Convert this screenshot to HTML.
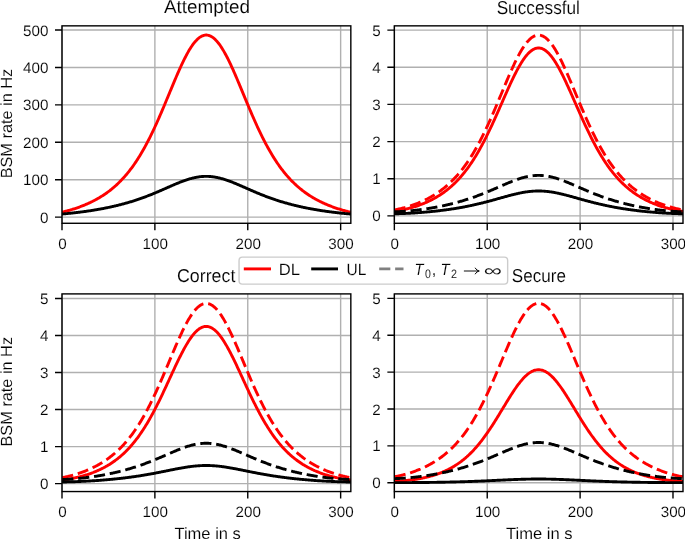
<!DOCTYPE html>
<html><head><meta charset="utf-8"><title>BSM rate</title>
<style>
html,body{margin:0;padding:0;background:#fff;}
body{width:685px;height:539px;overflow:hidden;font-family:"Liberation Sans",sans-serif;}
svg{display:block;will-change:transform;font-family:"Liberation Sans",sans-serif;}
text{stroke:#fff;stroke-width:.12px;}
</style></head><body>
<svg width="685" height="539" viewBox="0 0 685 539" text-rendering="geometricPrecision">
<rect width="685" height="539" fill="#fff"/>
<defs>
<clipPath id="c0"><rect x="62.0" y="25.85" width="288.83" height="197.43"/></clipPath>
<clipPath id="c1"><rect x="394.35" y="25.85" width="288.65" height="197.43"/></clipPath>
<clipPath id="c2"><rect x="62.0" y="293.9" width="288.83" height="197.65"/></clipPath>
<clipPath id="c3"><rect x="394.35" y="293.9" width="288.65" height="197.65"/></clipPath>
</defs>
<path d="M62.00 25.85V223.28M154.88 25.85V223.28M247.76 25.85V223.28M340.64 25.85V223.28M62.0 217.14H350.83M62.0 179.72H350.83M62.0 142.30H350.83M62.0 104.87H350.83M62.0 67.45H350.83M62.0 30.03H350.83" stroke="#b0b0b0" stroke-width="1.4" fill="none"/>
<g clip-path="url(#c0)" fill="none" stroke-width="2.9" stroke-linejoin="round">
<polyline points="62.00,212.14 62.72,211.97 63.45,211.80 64.17,211.62 64.90,211.44 65.62,211.26 66.35,211.07 67.07,210.88 67.80,210.69 68.52,210.49 69.25,210.29 69.97,210.08 70.70,209.87 71.42,209.65 72.15,209.44 72.87,209.21 73.59,208.99 74.32,208.76 75.04,208.52 75.77,208.28 76.49,208.04 77.22,207.79 77.94,207.54 78.67,207.28 79.39,207.02 80.12,206.75 80.84,206.48 81.57,206.21 82.29,205.92 83.01,205.64 83.74,205.35 84.46,205.05 85.19,204.75 85.91,204.44 86.64,204.13 87.36,203.81 88.09,203.49 88.81,203.16 89.54,202.83 90.26,202.49 90.99,202.14 91.71,201.79 92.44,201.43 93.16,201.06 93.88,200.69 94.61,200.31 95.33,199.93 96.06,199.54 96.78,199.14 97.51,198.73 98.23,198.32 98.96,197.89 99.68,197.47 100.41,197.03 101.13,196.58 101.86,196.13 102.58,195.67 103.31,195.20 104.03,194.72 104.75,194.23 105.48,193.74 106.20,193.23 106.93,192.72 107.65,192.19 108.38,191.66 109.10,191.11 109.83,190.56 110.55,189.99 111.28,189.42 112.00,188.83 112.73,188.23 113.45,187.62 114.17,187.00 114.90,186.37 115.62,185.73 116.35,185.07 117.07,184.40 117.80,183.72 118.52,183.02 119.25,182.32 119.97,181.59 120.70,180.86 121.42,180.11 122.15,179.35 122.87,178.57 123.60,177.78 124.32,176.97 125.04,176.15 125.77,175.31 126.49,174.45 127.22,173.58 127.94,172.70 128.67,171.80 129.39,170.88 130.12,169.94 130.84,168.99 131.57,168.02 132.29,167.04 133.02,166.03 133.74,165.01 134.47,163.97 135.19,162.91 135.91,161.84 136.64,160.74 137.36,159.63 138.09,158.50 138.81,157.35 139.54,156.18 140.26,154.99 140.99,153.78 141.71,152.56 142.44,151.31 143.16,150.05 143.89,148.76 144.61,147.46 145.33,146.14 146.06,144.79 146.78,143.43 147.51,142.05 148.23,140.66 148.96,139.24 149.68,137.80 150.41,136.35 151.13,134.88 151.86,133.39 152.58,131.88 153.31,130.36 154.03,128.82 154.76,127.26 155.48,125.69 156.20,124.10 156.93,122.49 157.65,120.87 158.38,119.24 159.10,117.60 159.83,115.94 160.55,114.27 161.28,112.58 162.00,110.89 162.73,109.19 163.45,107.48 164.18,105.76 164.90,104.03 165.62,102.30 166.35,100.56 167.07,98.82 167.80,97.07 168.52,95.32 169.25,93.57 169.97,91.82 170.70,90.08 171.42,88.33 172.15,86.59 172.87,84.85 173.60,83.12 174.32,81.40 175.05,79.69 175.77,77.98 176.49,76.29 177.22,74.61 177.94,72.95 178.67,71.31 179.39,69.68 180.12,68.07 180.84,66.48 181.57,64.92 182.29,63.37 183.02,61.86 183.74,60.37 184.47,58.91 185.19,57.48 185.92,56.08 186.64,54.72 187.36,53.39 188.09,52.09 188.81,50.83 189.54,49.62 190.26,48.44 190.99,47.30 191.71,46.21 192.44,45.16 193.16,44.16 193.89,43.21 194.61,42.30 195.34,41.44 196.06,40.63 196.78,39.88 197.51,39.17 198.23,38.52 198.96,37.92 199.68,37.38 200.41,36.89 201.13,36.46 201.86,36.09 202.58,35.77 203.31,35.51 204.03,35.30 204.76,35.16 205.48,35.07 206.21,35.04 206.93,35.07 207.65,35.16 208.38,35.31 209.10,35.51 209.83,35.78 210.55,36.10 211.28,36.47 212.00,36.90 212.73,37.39 213.45,37.94 214.18,38.54 214.90,39.19 215.63,39.90 216.35,40.65 217.08,41.46 217.80,42.32 218.52,43.23 219.25,44.19 219.97,45.19 220.70,46.24 221.42,47.33 222.15,48.47 222.87,49.65 223.60,50.87 224.32,52.12 225.05,53.42 225.77,54.75 226.50,56.12 227.22,57.52 227.94,58.95 228.67,60.41 229.39,61.90 230.12,63.41 230.84,64.95 231.57,66.52 232.29,68.11 233.02,69.72 233.74,71.35 234.47,72.99 235.19,74.66 235.92,76.33 236.64,78.03 237.37,79.73 238.09,81.44 238.81,83.17 239.54,84.90 240.26,86.63 240.99,88.37 241.71,90.12 242.44,91.87 243.16,93.62 243.89,95.37 244.61,97.12 245.34,98.86 246.06,100.60 246.79,102.34 247.51,104.08 248.24,105.80 248.96,107.52 249.68,109.23 250.41,110.94 251.13,112.63 251.86,114.31 252.58,115.98 253.31,117.64 254.03,119.28 254.76,120.92 255.48,122.53 256.21,124.14 256.93,125.73 257.66,127.30 258.38,128.86 259.10,130.40 259.83,131.92 260.55,133.43 261.28,134.91 262.00,136.39 262.73,137.84 263.45,139.27 264.18,140.69 264.90,142.09 265.63,143.47 266.35,144.83 267.08,146.17 267.80,147.49 268.53,148.79 269.25,150.08 269.97,151.34 270.70,152.59 271.42,153.81 272.15,155.02 272.87,156.21 273.60,157.38 274.32,158.53 275.05,159.66 275.77,160.77 276.50,161.86 277.22,162.94 277.95,164.00 278.67,165.04 279.40,166.06 280.12,167.06 280.84,168.05 281.57,169.02 282.29,169.97 283.02,170.90 283.74,171.82 284.47,172.72 285.19,173.61 285.92,174.48 286.64,175.33 287.37,176.17 288.09,176.99 288.82,177.80 289.54,178.59 290.26,179.37 290.99,180.13 291.71,180.88 292.44,181.61 293.16,182.33 293.89,183.04 294.61,183.74 295.34,184.42 296.06,185.09 296.79,185.74 297.51,186.39 298.24,187.02 298.96,187.64 299.69,188.25 300.41,188.85 301.13,189.43 301.86,190.01 302.58,190.57 303.31,191.13 304.03,191.67 304.76,192.21 305.48,192.73 306.21,193.25 306.93,193.75 307.66,194.25 308.38,194.73 309.11,195.21 309.83,195.68 310.56,196.14 311.28,196.60 312.00,197.04 312.73,197.48 313.45,197.91 314.18,198.33 314.90,198.74 315.63,199.15 316.35,199.55 317.08,199.94 317.80,200.32 318.53,200.70 319.25,201.07 319.98,201.44 320.70,201.80 321.42,202.15 322.15,202.50 322.87,202.84 323.60,203.17 324.32,203.50 325.05,203.82 325.77,204.14 326.50,204.45 327.22,204.76 327.95,205.06 328.67,205.35 329.40,205.65 330.12,205.93 330.85,206.21 331.57,206.49 332.29,206.76 333.02,207.03 333.74,207.29 334.47,207.54 335.19,207.80 335.92,208.05 336.64,208.29 337.37,208.53 338.09,208.76 338.82,208.99 339.54,209.22 340.27,209.44 340.99,209.66 341.71,209.87 342.44,210.08 343.16,210.29 343.89,210.49 344.61,210.69 345.34,210.89 346.06,211.08 346.79,211.26 347.51,211.45 348.24,211.62 348.96,211.80 349.69,211.97 350.41,212.14 351.14,212.31" stroke="#ff0000" stroke-linecap="square"/>
<polyline points="62.00,214.05 62.72,213.98 63.45,213.92 64.17,213.85 64.90,213.78 65.62,213.72 66.35,213.65 67.07,213.58 67.80,213.50 68.52,213.43 69.25,213.36 69.97,213.28 70.70,213.21 71.42,213.13 72.15,213.05 72.87,212.97 73.59,212.89 74.32,212.81 75.04,212.73 75.77,212.64 76.49,212.56 77.22,212.47 77.94,212.38 78.67,212.29 79.39,212.20 80.12,212.11 80.84,212.02 81.57,211.93 82.29,211.83 83.01,211.74 83.74,211.64 84.46,211.54 85.19,211.44 85.91,211.34 86.64,211.24 87.36,211.13 88.09,211.03 88.81,210.92 89.54,210.81 90.26,210.70 90.99,210.59 91.71,210.48 92.44,210.36 93.16,210.25 93.88,210.13 94.61,210.01 95.33,209.89 96.06,209.77 96.78,209.65 97.51,209.52 98.23,209.40 98.96,209.27 99.68,209.14 100.41,209.01 101.13,208.88 101.86,208.74 102.58,208.61 103.31,208.47 104.03,208.33 104.75,208.19 105.48,208.04 106.20,207.90 106.93,207.75 107.65,207.60 108.38,207.45 109.10,207.30 109.83,207.15 110.55,206.99 111.28,206.83 112.00,206.67 112.73,206.51 113.45,206.34 114.17,206.18 114.90,206.01 115.62,205.84 116.35,205.67 117.07,205.49 117.80,205.32 118.52,205.14 119.25,204.96 119.97,204.77 120.70,204.59 121.42,204.40 122.15,204.21 122.87,204.02 123.60,203.82 124.32,203.62 125.04,203.43 125.77,203.22 126.49,203.02 127.22,202.81 127.94,202.60 128.67,202.39 129.39,202.18 130.12,201.96 130.84,201.74 131.57,201.52 132.29,201.30 133.02,201.07 133.74,200.84 134.47,200.61 135.19,200.38 135.91,200.14 136.64,199.90 137.36,199.66 138.09,199.41 138.81,199.16 139.54,198.91 140.26,198.66 140.99,198.41 141.71,198.15 142.44,197.89 143.16,197.63 143.89,197.36 144.61,197.09 145.33,196.82 146.06,196.55 146.78,196.27 147.51,195.99 148.23,195.71 148.96,195.43 149.68,195.15 150.41,194.86 151.13,194.57 151.86,194.28 152.58,193.98 153.31,193.69 154.03,193.39 154.76,193.09 155.48,192.78 156.20,192.48 156.93,192.17 157.65,191.87 158.38,191.56 159.10,191.25 159.83,190.93 160.55,190.62 161.28,190.31 162.00,189.99 162.73,189.67 163.45,189.36 164.18,189.04 164.90,188.72 165.62,188.40 166.35,188.08 167.07,187.76 167.80,187.44 168.52,187.12 169.25,186.80 169.97,186.49 170.70,186.17 171.42,185.85 172.15,185.54 172.87,185.22 173.60,184.91 174.32,184.60 175.05,184.29 175.77,183.99 176.49,183.68 177.22,183.38 177.94,183.09 178.67,182.79 179.39,182.50 180.12,182.21 180.84,181.93 181.57,181.65 182.29,181.38 183.02,181.11 183.74,180.84 184.47,180.58 185.19,180.33 185.92,180.08 186.64,179.84 187.36,179.60 188.09,179.37 188.81,179.15 189.54,178.94 190.26,178.73 190.99,178.53 191.71,178.33 192.44,178.15 193.16,177.97 193.89,177.80 194.61,177.64 195.34,177.49 196.06,177.34 196.78,177.21 197.51,177.09 198.23,176.97 198.96,176.87 199.68,176.77 200.41,176.68 201.13,176.61 201.86,176.54 202.58,176.48 203.31,176.44 204.03,176.40 204.76,176.38 205.48,176.36 206.21,176.36 206.93,176.36 207.65,176.38 208.38,176.40 209.10,176.44 209.83,176.49 210.55,176.54 211.28,176.61 212.00,176.69 212.73,176.77 213.45,176.87 214.18,176.97 214.90,177.09 215.63,177.21 216.35,177.35 217.08,177.49 217.80,177.64 218.52,177.80 219.25,177.97 219.97,178.15 220.70,178.34 221.42,178.53 222.15,178.73 222.87,178.94 223.60,179.16 224.32,179.38 225.05,179.61 225.77,179.85 226.50,180.09 227.22,180.34 227.94,180.59 228.67,180.85 229.39,181.12 230.12,181.38 230.84,181.66 231.57,181.94 232.29,182.22 233.02,182.51 233.74,182.80 234.47,183.09 235.19,183.39 235.92,183.69 236.64,184.00 237.37,184.30 238.09,184.61 238.81,184.92 239.54,185.23 240.26,185.55 240.99,185.86 241.71,186.18 242.44,186.49 243.16,186.81 243.89,187.13 244.61,187.45 245.34,187.77 246.06,188.09 246.79,188.41 247.51,188.73 248.24,189.04 248.96,189.36 249.68,189.68 250.41,190.00 251.13,190.31 251.86,190.63 252.58,190.94 253.31,191.25 254.03,191.56 254.76,191.87 255.48,192.18 256.21,192.49 256.93,192.79 257.66,193.09 258.38,193.39 259.10,193.69 259.83,193.99 260.55,194.28 261.28,194.58 262.00,194.87 262.73,195.15 263.45,195.44 264.18,195.72 264.90,196.00 265.63,196.28 266.35,196.56 267.08,196.83 267.80,197.10 268.53,197.37 269.25,197.63 269.97,197.90 270.70,198.16 271.42,198.41 272.15,198.67 272.87,198.92 273.60,199.17 274.32,199.42 275.05,199.66 275.77,199.91 276.50,200.14 277.22,200.38 277.95,200.62 278.67,200.85 279.40,201.08 280.12,201.30 280.84,201.53 281.57,201.75 282.29,201.97 283.02,202.18 283.74,202.40 284.47,202.61 285.19,202.82 285.92,203.02 286.64,203.23 287.37,203.43 288.09,203.63 288.82,203.83 289.54,204.02 290.26,204.21 290.99,204.40 291.71,204.59 292.44,204.78 293.16,204.96 293.89,205.14 294.61,205.32 295.34,205.50 296.06,205.67 296.79,205.84 297.51,206.01 298.24,206.18 298.96,206.35 299.69,206.51 300.41,206.67 301.13,206.83 301.86,206.99 302.58,207.15 303.31,207.30 304.03,207.46 304.76,207.61 305.48,207.76 306.21,207.90 306.93,208.05 307.66,208.19 308.38,208.33 309.11,208.47 309.83,208.61 310.56,208.75 311.28,208.88 312.00,209.01 312.73,209.14 313.45,209.27 314.18,209.40 314.90,209.53 315.63,209.65 316.35,209.77 317.08,209.90 317.80,210.02 318.53,210.13 319.25,210.25 319.98,210.37 320.70,210.48 321.42,210.59 322.15,210.70 322.87,210.81 323.60,210.92 324.32,211.03 325.05,211.13 325.77,211.24 326.50,211.34 327.22,211.44 327.95,211.54 328.67,211.64 329.40,211.74 330.12,211.84 330.85,211.93 331.57,212.02 332.29,212.12 333.02,212.21 333.74,212.30 334.47,212.39 335.19,212.47 335.92,212.56 336.64,212.64 337.37,212.73 338.09,212.81 338.82,212.89 339.54,212.97 340.27,213.05 340.99,213.13 341.71,213.21 342.44,213.28 343.16,213.36 343.89,213.43 344.61,213.51 345.34,213.58 346.06,213.65 346.79,213.72 347.51,213.79 348.24,213.85 348.96,213.92 349.69,213.99 350.41,214.05 351.14,214.11" stroke="#000" stroke-linecap="square"/>
</g>
<path d="M62.00 223.28v7.0M154.88 223.28v7.0M247.76 223.28v7.0M340.64 223.28v7.0M62.0 217.14h-7.0M62.0 179.72h-7.0M62.0 142.30h-7.0M62.0 104.87h-7.0M62.0 67.45h-7.0M62.0 30.03h-7.0" stroke="#000" stroke-width="1.4" fill="none"/>
<rect x="62.0" y="25.85" width="288.83" height="197.43" fill="none" stroke="#000" stroke-width="1.4"/>
<g font-size="15.2" fill="#000">
<text x="62.40" y="248.88" text-anchor="middle">0</text>
<text x="155.28" y="248.88" text-anchor="middle">100</text>
<text x="248.16" y="248.88" text-anchor="middle">200</text>
<text x="341.04" y="248.88" text-anchor="middle">300</text>
<text x="48.40" y="222.69" text-anchor="end">0</text>
<text x="48.40" y="185.27" text-anchor="end">100</text>
<text x="48.40" y="147.85" text-anchor="end">200</text>
<text x="48.40" y="110.42" text-anchor="end">300</text>
<text x="48.40" y="73.00" text-anchor="end">400</text>
<text x="48.40" y="35.58" text-anchor="end">500</text>
</g>
<text x="163.93" y="13.4" font-size="18.6" textLength="86.05" lengthAdjust="spacingAndGlyphs">Attempted</text>
<g transform="translate(12.1 178.56) rotate(-90)"><text x="0.20" y="0" font-size="16.2" textLength="109.58" lengthAdjust="spacingAndGlyphs">BSM rate in Hz</text></g>
<path d="M394.35 25.85V223.28M487.23 25.85V223.28M580.11 25.85V223.28M672.99 25.85V223.28M394.35 215.90H683.00M394.35 178.74H683.00M394.35 141.58H683.00M394.35 104.42H683.00M394.35 67.26H683.00M394.35 30.10H683.00" stroke="#b0b0b0" stroke-width="1.4" fill="none"/>
<g clip-path="url(#c1)" fill="none" stroke-width="2.9" stroke-linejoin="round">
<polyline points="394.35,211.40 395.07,211.28 395.80,211.17 396.52,211.04 397.25,210.92 397.97,210.79 398.70,210.66 399.42,210.52 400.15,210.38 400.87,210.24 401.60,210.09 402.32,209.94 403.05,209.79 403.77,209.63 404.50,209.47 405.22,209.30 405.94,209.13 406.67,208.95 407.39,208.77 408.12,208.59 408.84,208.40 409.57,208.21 410.29,208.01 411.02,207.81 411.74,207.61 412.47,207.40 413.19,207.18 413.92,206.96 414.64,206.73 415.36,206.50 416.09,206.27 416.81,206.03 417.54,205.78 418.26,205.53 418.99,205.27 419.71,205.01 420.44,204.74 421.16,204.47 421.89,204.19 422.61,203.90 423.34,203.61 424.06,203.31 424.79,203.01 425.51,202.70 426.23,202.38 426.96,202.06 427.68,201.73 428.41,201.39 429.13,201.05 429.86,200.70 430.58,200.34 431.31,199.97 432.03,199.60 432.76,199.22 433.48,198.83 434.21,198.43 434.93,198.03 435.66,197.62 436.38,197.20 437.10,196.77 437.83,196.33 438.55,195.88 439.28,195.42 440.00,194.96 440.73,194.48 441.45,194.00 442.18,193.50 442.90,193.00 443.63,192.48 444.35,191.96 445.08,191.42 445.80,190.87 446.52,190.32 447.25,189.75 447.97,189.17 448.70,188.57 449.42,187.97 450.15,187.35 450.87,186.72 451.60,186.08 452.32,185.43 453.05,184.76 453.77,184.08 454.50,183.38 455.22,182.67 455.95,181.95 456.67,181.21 457.39,180.46 458.12,179.70 458.84,178.92 459.57,178.12 460.29,177.31 461.02,176.48 461.74,175.64 462.47,174.78 463.19,173.91 463.92,173.02 464.64,172.11 465.37,171.19 466.09,170.24 466.82,169.29 467.54,168.31 468.26,167.32 468.99,166.31 469.71,165.28 470.44,164.23 471.16,163.17 471.89,162.08 472.61,160.98 473.34,159.86 474.06,158.72 474.79,157.57 475.51,156.39 476.24,155.20 476.96,153.99 477.68,152.76 478.41,151.51 479.13,150.24 479.86,148.96 480.58,147.65 481.31,146.33 482.03,144.99 482.76,143.64 483.48,142.26 484.21,140.87 484.93,139.46 485.66,138.04 486.38,136.59 487.11,135.14 487.83,133.66 488.55,132.17 489.28,130.67 490.00,129.15 490.73,127.62 491.45,126.08 492.18,124.52 492.90,122.95 493.63,121.37 494.35,119.78 495.08,118.18 495.80,116.57 496.53,114.95 497.25,113.33 497.97,111.69 498.70,110.06 499.42,108.41 500.15,106.77 500.87,105.12 501.60,103.47 502.32,101.82 503.05,100.17 503.77,98.52 504.50,96.87 505.22,95.23 505.95,93.60 506.67,91.97 507.40,90.35 508.12,88.74 508.84,87.14 509.57,85.55 510.29,83.98 511.02,82.42 511.74,80.88 512.47,79.36 513.19,77.85 513.92,76.37 514.64,74.91 515.37,73.47 516.09,72.06 516.82,70.67 517.54,69.32 518.27,67.99 518.99,66.70 519.71,65.43 520.44,64.21 521.16,63.01 521.89,61.86 522.61,60.74 523.34,59.66 524.06,58.62 524.79,57.63 525.51,56.68 526.24,55.77 526.96,54.91 527.69,54.09 528.41,53.32 529.13,52.60 529.86,51.93 530.58,51.31 531.31,50.75 532.03,50.23 532.76,49.77 533.48,49.36 534.21,49.00 534.93,48.70 535.66,48.45 536.38,48.26 537.11,48.12 537.83,48.04 538.56,48.01 539.28,48.04 540.00,48.12 540.73,48.26 541.45,48.45 542.18,48.70 542.90,49.01 543.63,49.37 544.35,49.78 545.08,50.24 545.80,50.76 546.53,51.33 547.25,51.95 547.98,52.62 548.70,53.34 549.43,54.11 550.15,54.93 550.87,55.79 551.60,56.70 552.32,57.65 553.05,58.65 553.77,59.69 554.50,60.77 555.22,61.89 555.95,63.04 556.67,64.24 557.40,65.47 558.12,66.73 558.85,68.03 559.57,69.35 560.29,70.71 561.02,72.09 561.74,73.51 562.47,74.94 563.19,76.41 563.92,77.89 564.64,79.39 565.37,80.92 566.09,82.46 566.82,84.02 567.54,85.59 568.27,87.18 568.99,88.78 569.72,90.39 570.44,92.01 571.16,93.64 571.89,95.28 572.61,96.92 573.34,98.56 574.06,100.21 574.79,101.86 575.51,103.51 576.24,105.16 576.96,106.81 577.69,108.46 578.41,110.10 579.14,111.73 579.86,113.37 580.59,114.99 581.31,116.61 582.03,118.22 582.76,119.82 583.48,121.41 584.21,122.99 584.93,124.56 585.66,126.12 586.38,127.66 587.11,129.19 587.83,130.71 588.56,132.21 589.28,133.70 590.01,135.17 590.73,136.63 591.45,138.07 592.18,139.50 592.90,140.91 593.63,142.30 594.35,143.67 595.08,145.03 595.80,146.37 596.53,147.69 597.25,148.99 597.98,150.28 598.70,151.54 599.43,152.79 600.15,154.02 600.88,155.23 601.60,156.42 602.32,157.60 603.05,158.75 603.77,159.89 604.50,161.01 605.22,162.11 605.95,163.19 606.67,164.26 607.40,165.30 608.12,166.33 608.85,167.34 609.57,168.34 610.30,169.31 611.02,170.27 611.75,171.21 612.47,172.13 613.19,173.04 613.92,173.93 614.64,174.81 615.37,175.66 616.09,176.51 616.82,177.33 617.54,178.14 618.27,178.94 618.99,179.72 619.72,180.48 620.44,181.23 621.17,181.97 621.89,182.69 622.61,183.40 623.34,184.09 624.06,184.77 624.79,185.44 625.51,186.10 626.24,186.74 626.96,187.37 627.69,187.98 628.41,188.59 629.14,189.18 629.86,189.76 630.59,190.33 631.31,190.89 632.04,191.43 632.76,191.97 633.48,192.50 634.21,193.01 634.93,193.52 635.66,194.01 636.38,194.50 637.11,194.97 637.83,195.44 638.56,195.89 639.28,196.34 640.01,196.78 640.73,197.21 641.46,197.63 642.18,198.04 642.91,198.45 643.63,198.84 644.35,199.23 645.08,199.61 645.80,199.98 646.53,200.35 647.25,200.71 647.98,201.06 648.70,201.40 649.43,201.74 650.15,202.07 650.88,202.39 651.60,202.71 652.33,203.02 653.05,203.32 653.77,203.62 654.50,203.91 655.22,204.20 655.95,204.48 656.67,204.75 657.40,205.02 658.12,205.28 658.85,205.54 659.57,205.79 660.30,206.03 661.02,206.27 661.75,206.51 662.47,206.74 663.20,206.97 663.92,207.19 664.64,207.40 665.37,207.61 666.09,207.82 666.82,208.02 667.54,208.22 668.27,208.41 668.99,208.60 669.72,208.78 670.44,208.96 671.17,209.13 671.89,209.30 672.62,209.47 673.34,209.63 674.06,209.79 674.79,209.95 675.51,210.10 676.24,210.24 676.96,210.39 677.69,210.53 678.41,210.66 679.14,210.79 679.86,210.92 680.59,211.05 681.31,211.17 682.04,211.29 682.76,211.40 683.49,211.52" stroke="#ff0000" stroke-linecap="square"/>
<polyline points="394.35,209.94 395.07,209.80 395.80,209.65 396.52,209.51 397.25,209.35 397.97,209.20 398.70,209.04 399.42,208.88 400.15,208.71 400.87,208.54 401.60,208.36 402.32,208.18 403.05,208.00 403.77,207.81 404.50,207.61 405.22,207.42 405.94,207.21 406.67,207.01 407.39,206.79 408.12,206.58 408.84,206.36 409.57,206.13 410.29,205.90 411.02,205.66 411.74,205.42 412.47,205.17 413.19,204.92 413.92,204.66 414.64,204.40 415.36,204.13 416.09,203.86 416.81,203.58 417.54,203.30 418.26,203.01 418.99,202.71 419.71,202.41 420.44,202.10 421.16,201.78 421.89,201.46 422.61,201.14 423.34,200.80 424.06,200.46 424.79,200.12 425.51,199.76 426.23,199.40 426.96,199.04 427.68,198.66 428.41,198.28 429.13,197.89 429.86,197.50 430.58,197.09 431.31,196.68 432.03,196.26 432.76,195.83 433.48,195.40 434.21,194.95 434.93,194.50 435.66,194.04 436.38,193.57 437.10,193.09 437.83,192.60 438.55,192.10 439.28,191.59 440.00,191.08 440.73,190.55 441.45,190.01 442.18,189.46 442.90,188.91 443.63,188.34 444.35,187.76 445.08,187.16 445.80,186.56 446.52,185.95 447.25,185.32 447.97,184.68 448.70,184.03 449.42,183.37 450.15,182.69 450.87,182.00 451.60,181.30 452.32,180.59 453.05,179.86 453.77,179.12 454.50,178.36 455.22,177.59 455.95,176.80 456.67,176.00 457.39,175.18 458.12,174.35 458.84,173.51 459.57,172.64 460.29,171.76 461.02,170.87 461.74,169.96 462.47,169.03 463.19,168.09 463.92,167.12 464.64,166.14 465.37,165.15 466.09,164.13 466.82,163.10 467.54,162.05 468.26,160.98 468.99,159.90 469.71,158.79 470.44,157.67 471.16,156.52 471.89,155.36 472.61,154.18 473.34,152.99 474.06,151.77 474.79,150.53 475.51,149.27 476.24,148.00 476.96,146.70 477.68,145.39 478.41,144.06 479.13,142.71 479.86,141.34 480.58,139.95 481.31,138.54 482.03,137.12 482.76,135.67 483.48,134.21 484.21,132.73 484.93,131.24 485.66,129.72 486.38,128.19 487.11,126.65 487.83,125.09 488.55,123.51 489.28,121.92 490.00,120.31 490.73,118.69 491.45,117.05 492.18,115.41 492.90,113.75 493.63,112.08 494.35,110.40 495.08,108.71 495.80,107.01 496.53,105.30 497.25,103.58 497.97,101.86 498.70,100.14 499.42,98.41 500.15,96.67 500.87,94.94 501.60,93.20 502.32,91.46 503.05,89.73 503.77,87.99 504.50,86.26 505.22,84.54 505.95,82.82 506.67,81.11 507.40,79.41 508.12,77.72 508.84,76.04 509.57,74.37 510.29,72.72 511.02,71.09 511.74,69.47 512.47,67.87 513.19,66.30 513.92,64.74 514.64,63.21 515.37,61.71 516.09,60.23 516.82,58.78 517.54,57.36 518.27,55.97 518.99,54.61 519.71,53.29 520.44,52.01 521.16,50.76 521.89,49.55 522.61,48.38 523.34,47.25 524.06,46.17 524.79,45.13 525.51,44.13 526.24,43.18 526.96,42.28 527.69,41.43 528.41,40.63 529.13,39.88 529.86,39.18 530.58,38.53 531.31,37.94 532.03,37.40 532.76,36.92 533.48,36.49 534.21,36.11 534.93,35.80 535.66,35.54 536.38,35.34 537.11,35.19 537.83,35.11 538.56,35.08 539.28,35.11 540.00,35.20 540.73,35.34 541.45,35.55 542.18,35.81 542.90,36.12 543.63,36.50 544.35,36.93 545.08,37.41 545.80,37.95 546.53,38.55 547.25,39.20 547.98,39.90 548.70,40.65 549.43,41.45 550.15,42.31 550.87,43.21 551.60,44.16 552.32,45.15 553.05,46.20 553.77,47.28 554.50,48.41 555.22,49.58 555.95,50.79 556.67,52.04 557.40,53.32 558.12,54.65 558.85,56.00 559.57,57.39 560.29,58.81 561.02,60.26 561.74,61.74 562.47,63.25 563.19,64.78 563.92,66.34 564.64,67.91 565.37,69.51 566.09,71.13 566.82,72.76 567.54,74.41 568.27,76.08 568.99,77.76 569.72,79.45 570.44,81.15 571.16,82.86 571.89,84.58 572.61,86.31 573.34,88.04 574.06,89.77 574.79,91.50 575.51,93.24 576.24,94.98 576.96,96.72 577.69,98.45 578.41,100.18 579.14,101.91 579.86,103.63 580.59,105.34 581.31,107.05 582.03,108.75 582.76,110.44 583.48,112.12 584.21,113.79 584.93,115.45 585.66,117.09 586.38,118.73 587.11,120.35 587.83,121.96 588.56,123.55 589.28,125.13 590.01,126.69 590.73,128.23 591.45,129.76 592.18,131.28 592.90,132.77 593.63,134.25 594.35,135.71 595.08,137.15 595.80,138.58 596.53,139.99 597.25,141.37 597.98,142.74 598.70,144.09 599.43,145.43 600.15,146.74 600.88,148.03 601.60,149.31 602.32,150.56 603.05,151.80 603.77,153.02 604.50,154.21 605.22,155.39 605.95,156.55 606.67,157.70 607.40,158.82 608.12,159.92 608.85,161.01 609.57,162.08 610.30,163.13 611.02,164.16 611.75,165.17 612.47,166.17 613.19,167.15 613.92,168.11 614.64,169.05 615.37,169.98 616.09,170.89 616.82,171.79 617.54,172.67 618.27,173.53 618.99,174.37 619.72,175.20 620.44,176.02 621.17,176.82 621.89,177.61 622.61,178.38 623.34,179.13 624.06,179.88 624.79,180.61 625.51,181.32 626.24,182.02 626.96,182.71 627.69,183.39 628.41,184.05 629.14,184.70 629.86,185.34 630.59,185.96 631.31,186.58 632.04,187.18 632.76,187.77 633.48,188.35 634.21,188.92 634.93,189.48 635.66,190.03 636.38,190.56 637.11,191.09 637.83,191.61 638.56,192.11 639.28,192.61 640.01,193.10 640.73,193.58 641.46,194.05 642.18,194.51 642.91,194.96 643.63,195.41 644.35,195.84 645.08,196.27 645.80,196.69 646.53,197.10 647.25,197.51 647.98,197.90 648.70,198.29 649.43,198.67 650.15,199.05 650.88,199.41 651.60,199.77 652.33,200.13 653.05,200.47 653.77,200.81 654.50,201.15 655.22,201.47 655.95,201.79 656.67,202.11 657.40,202.42 658.12,202.72 658.85,203.01 659.57,203.30 660.30,203.59 661.02,203.87 661.75,204.14 662.47,204.41 663.20,204.67 663.92,204.93 664.64,205.18 665.37,205.43 666.09,205.67 666.82,205.90 667.54,206.14 668.27,206.36 668.99,206.58 669.72,206.80 670.44,207.01 671.17,207.22 671.89,207.42 672.62,207.62 673.34,207.81 674.06,208.00 674.79,208.18 675.51,208.36 676.24,208.54 676.96,208.71 677.69,208.88 678.41,209.04 679.14,209.20 679.86,209.36 680.59,209.51 681.31,209.66 682.04,209.80 682.76,209.94 683.49,210.08" stroke="#ff0000" stroke-dasharray="11.13 4.82" stroke-dashoffset="-0.3"/>
<polyline points="394.35,213.79 395.07,213.77 395.80,213.76 396.52,213.74 397.25,213.72 397.97,213.70 398.70,213.68 399.42,213.66 400.15,213.63 400.87,213.61 401.60,213.58 402.32,213.56 403.05,213.53 403.77,213.50 404.50,213.47 405.22,213.44 405.94,213.41 406.67,213.37 407.39,213.34 408.12,213.30 408.84,213.27 409.57,213.23 410.29,213.19 411.02,213.15 411.74,213.11 412.47,213.06 413.19,213.02 413.92,212.98 414.64,212.93 415.36,212.88 416.09,212.84 416.81,212.79 417.54,212.74 418.26,212.68 418.99,212.63 419.71,212.58 420.44,212.52 421.16,212.47 421.89,212.41 422.61,212.35 423.34,212.29 424.06,212.23 424.79,212.17 425.51,212.11 426.23,212.04 426.96,211.98 427.68,211.91 428.41,211.85 429.13,211.78 429.86,211.71 430.58,211.64 431.31,211.56 432.03,211.49 432.76,211.42 433.48,211.34 434.21,211.26 434.93,211.19 435.66,211.11 436.38,211.03 437.10,210.95 437.83,210.86 438.55,210.78 439.28,210.69 440.00,210.61 440.73,210.52 441.45,210.43 442.18,210.34 442.90,210.25 443.63,210.15 444.35,210.06 445.08,209.96 445.80,209.86 446.52,209.77 447.25,209.67 447.97,209.56 448.70,209.46 449.42,209.36 450.15,209.25 450.87,209.14 451.60,209.03 452.32,208.92 453.05,208.81 453.77,208.70 454.50,208.58 455.22,208.47 455.95,208.35 456.67,208.23 457.39,208.11 458.12,207.99 458.84,207.86 459.57,207.74 460.29,207.61 461.02,207.48 461.74,207.35 462.47,207.22 463.19,207.08 463.92,206.95 464.64,206.81 465.37,206.67 466.09,206.53 466.82,206.39 467.54,206.24 468.26,206.09 468.99,205.95 469.71,205.80 470.44,205.65 471.16,205.49 471.89,205.34 472.61,205.18 473.34,205.02 474.06,204.86 474.79,204.70 475.51,204.54 476.24,204.37 476.96,204.20 477.68,204.04 478.41,203.87 479.13,203.69 479.86,203.52 480.58,203.34 481.31,203.17 482.03,202.99 482.76,202.81 483.48,202.62 484.21,202.44 484.93,202.26 485.66,202.07 486.38,201.88 487.11,201.69 487.83,201.50 488.55,201.31 489.28,201.12 490.00,200.92 490.73,200.73 491.45,200.53 492.18,200.33 492.90,200.13 493.63,199.93 494.35,199.73 495.08,199.53 495.80,199.33 496.53,199.13 497.25,198.93 497.97,198.72 498.70,198.52 499.42,198.32 500.15,198.11 500.87,197.91 501.60,197.71 502.32,197.51 503.05,197.30 503.77,197.10 504.50,196.90 505.22,196.70 505.95,196.50 506.67,196.30 507.40,196.10 508.12,195.91 508.84,195.71 509.57,195.52 510.29,195.33 511.02,195.14 511.74,194.95 512.47,194.77 513.19,194.59 513.92,194.41 514.64,194.23 515.37,194.06 516.09,193.89 516.82,193.72 517.54,193.56 518.27,193.40 518.99,193.24 519.71,193.09 520.44,192.94 521.16,192.80 521.89,192.66 522.61,192.53 523.34,192.40 524.06,192.27 524.79,192.15 525.51,192.04 526.24,191.93 526.96,191.82 527.69,191.73 528.41,191.63 529.13,191.55 529.86,191.47 530.58,191.39 531.31,191.32 532.03,191.26 532.76,191.20 533.48,191.16 534.21,191.11 534.93,191.08 535.66,191.05 536.38,191.02 537.11,191.01 537.83,191.00 538.56,190.99 539.28,191.00 540.00,191.01 540.73,191.02 541.45,191.05 542.18,191.08 542.90,191.11 543.63,191.16 544.35,191.21 545.08,191.26 545.80,191.32 546.53,191.39 547.25,191.47 547.98,191.55 548.70,191.64 549.43,191.73 550.15,191.83 550.87,191.93 551.60,192.04 552.32,192.15 553.05,192.27 553.77,192.40 554.50,192.53 555.22,192.66 555.95,192.80 556.67,192.95 557.40,193.09 558.12,193.25 558.85,193.40 559.57,193.56 560.29,193.73 561.02,193.89 561.74,194.06 562.47,194.24 563.19,194.41 563.92,194.59 564.64,194.78 565.37,194.96 566.09,195.15 566.82,195.34 567.54,195.53 568.27,195.72 568.99,195.91 569.72,196.11 570.44,196.31 571.16,196.50 571.89,196.70 572.61,196.90 573.34,197.11 574.06,197.31 574.79,197.51 575.51,197.71 576.24,197.92 576.96,198.12 577.69,198.32 578.41,198.53 579.14,198.73 579.86,198.93 580.59,199.13 581.31,199.34 582.03,199.54 582.76,199.74 583.48,199.94 584.21,200.14 584.93,200.34 585.66,200.54 586.38,200.73 587.11,200.93 587.83,201.12 588.56,201.31 589.28,201.51 590.01,201.70 590.73,201.89 591.45,202.07 592.18,202.26 592.90,202.45 593.63,202.63 594.35,202.81 595.08,202.99 595.80,203.17 596.53,203.35 597.25,203.52 597.98,203.70 598.70,203.87 599.43,204.04 600.15,204.21 600.88,204.38 601.60,204.54 602.32,204.70 603.05,204.87 603.77,205.03 604.50,205.19 605.22,205.34 605.95,205.50 606.67,205.65 607.40,205.80 608.12,205.95 608.85,206.10 609.57,206.24 610.30,206.39 611.02,206.53 611.75,206.67 612.47,206.81 613.19,206.95 613.92,207.09 614.64,207.22 615.37,207.35 616.09,207.48 616.82,207.61 617.54,207.74 618.27,207.87 618.99,207.99 619.72,208.11 620.44,208.23 621.17,208.35 621.89,208.47 622.61,208.59 623.34,208.70 624.06,208.82 624.79,208.93 625.51,209.04 626.24,209.15 626.96,209.25 627.69,209.36 628.41,209.46 629.14,209.57 629.86,209.67 630.59,209.77 631.31,209.87 632.04,209.96 632.76,210.06 633.48,210.15 634.21,210.25 634.93,210.34 635.66,210.43 636.38,210.52 637.11,210.61 637.83,210.69 638.56,210.78 639.28,210.86 640.01,210.95 640.73,211.03 641.46,211.11 642.18,211.19 642.91,211.27 643.63,211.34 644.35,211.42 645.08,211.49 645.80,211.57 646.53,211.64 647.25,211.71 647.98,211.78 648.70,211.85 649.43,211.91 650.15,211.98 650.88,212.05 651.60,212.11 652.33,212.17 653.05,212.23 653.77,212.29 654.50,212.35 655.22,212.41 655.95,212.47 656.67,212.52 657.40,212.58 658.12,212.63 658.85,212.69 659.57,212.74 660.30,212.79 661.02,212.84 661.75,212.88 662.47,212.93 663.20,212.98 663.92,213.02 664.64,213.07 665.37,213.11 666.09,213.15 666.82,213.19 667.54,213.23 668.27,213.27 668.99,213.30 669.72,213.34 670.44,213.37 671.17,213.41 671.89,213.44 672.62,213.47 673.34,213.50 674.06,213.53 674.79,213.56 675.51,213.59 676.24,213.61 676.96,213.64 677.69,213.66 678.41,213.68 679.14,213.70 679.86,213.72 680.59,213.74 681.31,213.76 682.04,213.77 682.76,213.79 683.49,213.80" stroke="#000" stroke-linecap="square"/>
<polyline points="394.35,211.82 395.07,211.79 395.80,211.77 396.52,211.74 397.25,211.71 397.97,211.67 398.70,211.64 399.42,211.60 400.15,211.56 400.87,211.52 401.60,211.48 402.32,211.43 403.05,211.38 403.77,211.33 404.50,211.28 405.22,211.23 405.94,211.17 406.67,211.11 407.39,211.05 408.12,210.99 408.84,210.93 409.57,210.86 410.29,210.79 411.02,210.72 411.74,210.65 412.47,210.58 413.19,210.50 413.92,210.43 414.64,210.35 415.36,210.27 416.09,210.18 416.81,210.10 417.54,210.01 418.26,209.92 418.99,209.83 419.71,209.74 420.44,209.65 421.16,209.55 421.89,209.45 422.61,209.35 423.34,209.25 424.06,209.15 424.79,209.04 425.51,208.94 426.23,208.83 426.96,208.72 427.68,208.60 428.41,208.49 429.13,208.37 429.86,208.25 430.58,208.13 431.31,208.01 432.03,207.89 432.76,207.76 433.48,207.63 434.21,207.50 434.93,207.37 435.66,207.24 436.38,207.10 437.10,206.97 437.83,206.83 438.55,206.69 439.28,206.54 440.00,206.40 440.73,206.25 441.45,206.10 442.18,205.95 442.90,205.80 443.63,205.64 444.35,205.48 445.08,205.32 445.80,205.16 446.52,205.00 447.25,204.83 447.97,204.66 448.70,204.49 449.42,204.32 450.15,204.15 450.87,203.97 451.60,203.79 452.32,203.61 453.05,203.43 453.77,203.24 454.50,203.05 455.22,202.86 455.95,202.67 456.67,202.47 457.39,202.28 458.12,202.08 458.84,201.87 459.57,201.67 460.29,201.46 461.02,201.25 461.74,201.04 462.47,200.83 463.19,200.61 463.92,200.39 464.64,200.17 465.37,199.94 466.09,199.71 466.82,199.48 467.54,199.25 468.26,199.02 468.99,198.78 469.71,198.54 470.44,198.30 471.16,198.05 471.89,197.80 472.61,197.55 473.34,197.30 474.06,197.04 474.79,196.78 475.51,196.52 476.24,196.26 476.96,195.99 477.68,195.72 478.41,195.45 479.13,195.18 479.86,194.90 480.58,194.62 481.31,194.34 482.03,194.06 482.76,193.77 483.48,193.49 484.21,193.20 484.93,192.90 485.66,192.61 486.38,192.31 487.11,192.01 487.83,191.71 488.55,191.41 489.28,191.11 490.00,190.80 490.73,190.50 491.45,190.19 492.18,189.88 492.90,189.57 493.63,189.25 494.35,188.94 495.08,188.62 495.80,188.31 496.53,187.99 497.25,187.68 497.97,187.36 498.70,187.04 499.42,186.73 500.15,186.41 500.87,186.09 501.60,185.78 502.32,185.46 503.05,185.15 503.77,184.83 504.50,184.52 505.22,184.21 505.95,183.90 506.67,183.59 507.40,183.28 508.12,182.98 508.84,182.68 509.57,182.38 510.29,182.08 511.02,181.79 511.74,181.50 512.47,181.22 513.19,180.94 513.92,180.66 514.64,180.39 515.37,180.12 516.09,179.86 516.82,179.60 517.54,179.35 518.27,179.10 518.99,178.86 519.71,178.63 520.44,178.40 521.16,178.18 521.89,177.96 522.61,177.76 523.34,177.56 524.06,177.36 524.79,177.18 525.51,177.00 526.24,176.84 526.96,176.68 527.69,176.53 528.41,176.38 529.13,176.25 529.86,176.13 530.58,176.01 531.31,175.91 532.03,175.81 532.76,175.73 533.48,175.65 534.21,175.58 534.93,175.53 535.66,175.48 536.38,175.45 537.11,175.42 537.83,175.41 538.56,175.40 539.28,175.41 540.00,175.42 540.73,175.45 541.45,175.48 542.18,175.53 542.90,175.59 543.63,175.65 544.35,175.73 545.08,175.81 545.80,175.91 546.53,176.02 547.25,176.13 547.98,176.25 548.70,176.39 549.43,176.53 550.15,176.68 550.87,176.84 551.60,177.01 552.32,177.18 553.05,177.37 553.77,177.56 554.50,177.76 555.22,177.97 555.95,178.18 556.67,178.40 557.40,178.63 558.12,178.87 558.85,179.11 559.57,179.35 560.29,179.61 561.02,179.86 561.74,180.13 562.47,180.40 563.19,180.67 563.92,180.94 564.64,181.23 565.37,181.51 566.09,181.80 566.82,182.09 567.54,182.39 568.27,182.69 568.99,182.99 569.72,183.29 570.44,183.60 571.16,183.91 571.89,184.21 572.61,184.53 573.34,184.84 574.06,185.15 574.79,185.47 575.51,185.78 576.24,186.10 576.96,186.42 577.69,186.73 578.41,187.05 579.14,187.37 579.86,187.69 580.59,188.00 581.31,188.32 582.03,188.63 582.76,188.95 583.48,189.26 584.21,189.57 584.93,189.88 585.66,190.19 586.38,190.50 587.11,190.81 587.83,191.12 588.56,191.42 589.28,191.72 590.01,192.02 590.73,192.32 591.45,192.62 592.18,192.91 592.90,193.20 593.63,193.49 594.35,193.78 595.08,194.07 595.80,194.35 596.53,194.63 597.25,194.91 597.98,195.19 598.70,195.46 599.43,195.73 600.15,196.00 600.88,196.27 601.60,196.53 602.32,196.79 603.05,197.05 603.77,197.30 604.50,197.56 605.22,197.81 605.95,198.06 606.67,198.30 607.40,198.54 608.12,198.78 608.85,199.02 609.57,199.26 610.30,199.49 611.02,199.72 611.75,199.95 612.47,200.17 613.19,200.39 613.92,200.61 614.64,200.83 615.37,201.05 616.09,201.26 616.82,201.47 617.54,201.68 618.27,201.88 618.99,202.08 619.72,202.28 620.44,202.48 621.17,202.67 621.89,202.87 622.61,203.06 623.34,203.25 624.06,203.43 624.79,203.62 625.51,203.80 626.24,203.98 626.96,204.15 627.69,204.33 628.41,204.50 629.14,204.67 629.86,204.84 630.59,205.00 631.31,205.17 632.04,205.33 632.76,205.49 633.48,205.64 634.21,205.80 634.93,205.95 635.66,206.10 636.38,206.25 637.11,206.40 637.83,206.55 638.56,206.69 639.28,206.83 640.01,206.97 640.73,207.11 641.46,207.24 642.18,207.38 642.91,207.51 643.63,207.64 644.35,207.76 645.08,207.89 645.80,208.01 646.53,208.14 647.25,208.26 647.98,208.37 648.70,208.49 649.43,208.61 650.15,208.72 650.88,208.83 651.60,208.94 652.33,209.05 653.05,209.15 653.77,209.25 654.50,209.36 655.22,209.46 655.95,209.55 656.67,209.65 657.40,209.74 658.12,209.84 658.85,209.93 659.57,210.01 660.30,210.10 661.02,210.19 661.75,210.27 662.47,210.35 663.20,210.43 663.92,210.51 664.64,210.58 665.37,210.66 666.09,210.73 666.82,210.80 667.54,210.86 668.27,210.93 668.99,210.99 669.72,211.05 670.44,211.11 671.17,211.17 671.89,211.23 672.62,211.28 673.34,211.33 674.06,211.38 674.79,211.43 675.51,211.48 676.24,211.52 676.96,211.56 677.69,211.60 678.41,211.64 679.14,211.67 679.86,211.71 680.59,211.74 681.31,211.77 682.04,211.79 682.76,211.82 683.49,211.84" stroke="#000" stroke-dasharray="11.13 4.82" stroke-dashoffset="-0.3"/>
</g>
<path d="M394.35 223.28v7.0M487.23 223.28v7.0M580.11 223.28v7.0M672.99 223.28v7.0M394.35 215.90h-7.0M394.35 178.74h-7.0M394.35 141.58h-7.0M394.35 104.42h-7.0M394.35 67.26h-7.0M394.35 30.10h-7.0" stroke="#000" stroke-width="1.4" fill="none"/>
<rect x="394.35" y="25.85" width="288.65" height="197.43" fill="none" stroke="#000" stroke-width="1.4"/>
<g font-size="15.2" fill="#000">
<text x="394.75" y="248.88" text-anchor="middle">0</text>
<text x="487.63" y="248.88" text-anchor="middle">100</text>
<text x="580.51" y="248.88" text-anchor="middle">200</text>
<text x="673.39" y="248.88" text-anchor="middle">300</text>
<text x="380.75" y="221.45" text-anchor="end">0</text>
<text x="380.75" y="184.29" text-anchor="end">1</text>
<text x="380.75" y="147.13" text-anchor="end">2</text>
<text x="380.75" y="109.97" text-anchor="end">3</text>
<text x="380.75" y="72.81" text-anchor="end">4</text>
<text x="380.75" y="35.65" text-anchor="end">5</text>
</g>
<text x="496.64" y="13.6" font-size="18.6" textLength="83.33" lengthAdjust="spacingAndGlyphs">Successful</text>
<path d="M62.00 293.9V491.55M154.88 293.9V491.55M247.76 293.9V491.55M340.64 293.9V491.55M62.0 483.60H350.83M62.0 446.58H350.83M62.0 409.56H350.83M62.0 372.54H350.83M62.0 335.52H350.83M62.0 298.50H350.83" stroke="#b0b0b0" stroke-width="1.4" fill="none"/>
<g clip-path="url(#c2)" fill="none" stroke-width="2.9" stroke-linejoin="round">
<polyline points="62.00,480.06 62.72,479.96 63.45,479.86 64.17,479.76 64.90,479.65 65.62,479.54 66.35,479.43 67.07,479.32 67.80,479.20 68.52,479.08 69.25,478.95 69.97,478.82 70.70,478.69 71.42,478.55 72.15,478.42 72.87,478.27 73.59,478.13 74.32,477.98 75.04,477.82 75.77,477.66 76.49,477.50 77.22,477.33 77.94,477.16 78.67,476.99 79.39,476.81 80.12,476.63 80.84,476.44 81.57,476.25 82.29,476.05 83.01,475.85 83.74,475.64 84.46,475.43 85.19,475.21 85.91,474.99 86.64,474.77 87.36,474.54 88.09,474.30 88.81,474.06 89.54,473.81 90.26,473.56 90.99,473.30 91.71,473.03 92.44,472.76 93.16,472.49 93.88,472.20 94.61,471.92 95.33,471.62 96.06,471.32 96.78,471.01 97.51,470.70 98.23,470.38 98.96,470.05 99.68,469.71 100.41,469.37 101.13,469.02 101.86,468.66 102.58,468.30 103.31,467.92 104.03,467.54 104.75,467.15 105.48,466.75 106.20,466.35 106.93,465.93 107.65,465.51 108.38,465.08 109.10,464.64 109.83,464.18 110.55,463.72 111.28,463.25 112.00,462.77 112.73,462.28 113.45,461.78 114.17,461.27 114.90,460.75 115.62,460.21 116.35,459.67 117.07,459.11 117.80,458.54 118.52,457.96 119.25,457.37 119.97,456.77 120.70,456.15 121.42,455.52 122.15,454.88 122.87,454.23 123.60,453.56 124.32,452.87 125.04,452.18 125.77,451.47 126.49,450.74 127.22,450.00 127.94,449.25 128.67,448.48 129.39,447.70 130.12,446.90 130.84,446.08 131.57,445.25 132.29,444.41 133.02,443.54 133.74,442.66 134.47,441.77 135.19,440.86 135.91,439.93 136.64,438.98 137.36,438.02 138.09,437.04 138.81,436.04 139.54,435.02 140.26,433.99 140.99,432.94 141.71,431.87 142.44,430.78 143.16,429.68 143.89,428.55 144.61,427.41 145.33,426.26 146.06,425.08 146.78,423.89 147.51,422.67 148.23,421.44 148.96,420.20 149.68,418.93 150.41,417.65 151.13,416.35 151.86,415.04 152.58,413.70 153.31,412.35 154.03,410.99 154.76,409.61 155.48,408.21 156.20,406.80 156.93,405.38 157.65,403.94 158.38,402.49 159.10,401.02 159.83,399.54 160.55,398.05 161.28,396.55 162.00,395.04 162.73,393.52 163.45,391.98 164.18,390.45 164.90,388.90 165.62,387.34 166.35,385.79 167.07,384.22 167.80,382.65 168.52,381.08 169.25,379.51 169.97,377.93 170.70,376.36 171.42,374.79 172.15,373.22 172.87,371.65 173.60,370.09 174.32,368.54 175.05,366.99 175.77,365.45 176.49,363.92 177.22,362.40 177.94,360.90 178.67,359.41 179.39,357.94 180.12,356.48 180.84,355.04 181.57,353.62 182.29,352.22 183.02,350.84 183.74,349.49 184.47,348.17 185.19,346.87 185.92,345.60 186.64,344.36 187.36,343.15 188.09,341.97 188.81,340.82 189.54,339.72 190.26,338.64 190.99,337.61 191.71,336.62 192.44,335.66 193.16,334.75 193.89,333.88 194.61,333.05 195.34,332.27 196.06,331.53 196.78,330.84 197.51,330.20 198.23,329.60 198.96,329.06 199.68,328.56 200.41,328.12 201.13,327.72 201.86,327.38 202.58,327.09 203.31,326.85 204.03,326.67 204.76,326.53 205.48,326.45 206.21,326.43 206.93,326.46 207.65,326.54 208.38,326.67 209.10,326.86 209.83,327.10 210.55,327.39 211.28,327.73 212.00,328.13 212.73,328.57 213.45,329.07 214.18,329.62 214.90,330.21 215.63,330.86 216.35,331.55 217.08,332.29 217.80,333.07 218.52,333.90 219.25,334.77 219.97,335.68 220.70,336.64 221.42,337.64 222.15,338.67 222.87,339.74 223.60,340.85 224.32,342.00 225.05,343.18 225.77,344.39 226.50,345.63 227.22,346.90 227.94,348.20 228.67,349.53 229.39,350.88 230.12,352.26 230.84,353.65 231.57,355.07 232.29,356.51 233.02,357.97 233.74,359.45 234.47,360.94 235.19,362.44 235.92,363.96 236.64,365.49 237.37,367.03 238.09,368.58 238.81,370.13 239.54,371.69 240.26,373.26 240.99,374.83 241.71,376.40 242.44,377.97 243.16,379.55 243.89,381.12 244.61,382.69 245.34,384.26 246.06,385.82 246.79,387.38 247.51,388.94 248.24,390.48 248.96,392.02 249.68,393.55 250.41,395.08 251.13,396.59 251.86,398.09 252.58,399.58 253.31,401.06 254.03,402.52 254.76,403.97 255.48,405.41 256.21,406.84 256.93,408.25 257.66,409.64 258.38,411.02 259.10,412.39 259.83,413.74 260.55,415.07 261.28,416.38 262.00,417.68 262.73,418.96 263.45,420.23 264.18,421.47 264.90,422.70 265.63,423.92 266.35,425.11 267.08,426.29 267.80,427.44 268.53,428.58 269.25,429.71 269.97,430.81 270.70,431.90 271.42,432.96 272.15,434.02 272.87,435.05 273.60,436.06 274.32,437.06 275.05,438.04 275.77,439.00 276.50,439.95 277.22,440.88 277.95,441.79 278.67,442.69 279.40,443.57 280.12,444.43 280.84,445.27 281.57,446.10 282.29,446.92 283.02,447.72 283.74,448.50 284.47,449.27 285.19,450.02 285.92,450.76 286.64,451.49 287.37,452.20 288.09,452.89 288.82,453.57 289.54,454.24 290.26,454.90 290.99,455.54 291.71,456.17 292.44,456.78 293.16,457.39 293.89,457.98 294.61,458.56 295.34,459.13 296.06,459.68 296.79,460.23 297.51,460.76 298.24,461.28 298.96,461.79 299.69,462.29 300.41,462.78 301.13,463.26 301.86,463.73 302.58,464.20 303.31,464.65 304.03,465.09 304.76,465.52 305.48,465.94 306.21,466.36 306.93,466.76 307.66,467.16 308.38,467.55 309.11,467.93 309.83,468.31 310.56,468.67 311.28,469.03 312.00,469.38 312.73,469.72 313.45,470.06 314.18,470.38 314.90,470.71 315.63,471.02 316.35,471.33 317.08,471.63 317.80,471.92 318.53,472.21 319.25,472.49 319.98,472.77 320.70,473.04 321.42,473.30 322.15,473.56 322.87,473.82 323.60,474.06 324.32,474.30 325.05,474.54 325.77,474.77 326.50,475.00 327.22,475.22 327.95,475.44 328.67,475.65 329.40,475.85 330.12,476.05 330.85,476.25 331.57,476.44 332.29,476.63 333.02,476.81 333.74,476.99 334.47,477.17 335.19,477.34 335.92,477.50 336.64,477.67 337.37,477.82 338.09,477.98 338.82,478.13 339.54,478.28 340.27,478.42 340.99,478.56 341.71,478.69 342.44,478.83 343.16,478.95 343.89,479.08 344.61,479.20 345.34,479.32 346.06,479.43 346.79,479.55 347.51,479.66 348.24,479.76 348.96,479.86 349.69,479.97 350.41,480.06 351.14,480.16" stroke="#ff0000" stroke-linecap="square"/>
<polyline points="62.00,477.66 62.72,477.52 63.45,477.38 64.17,477.23 64.90,477.08 65.62,476.92 66.35,476.76 67.07,476.60 67.80,476.44 68.52,476.26 69.25,476.09 69.97,475.91 70.70,475.73 71.42,475.54 72.15,475.34 72.87,475.15 73.59,474.95 74.32,474.74 75.04,474.53 75.77,474.31 76.49,474.09 77.22,473.87 77.94,473.64 78.67,473.40 79.39,473.16 80.12,472.91 80.84,472.66 81.57,472.41 82.29,472.15 83.01,471.88 83.74,471.61 84.46,471.33 85.19,471.04 85.91,470.75 86.64,470.46 87.36,470.16 88.09,469.85 88.81,469.54 89.54,469.22 90.26,468.89 90.99,468.56 91.71,468.22 92.44,467.88 93.16,467.52 93.88,467.17 94.61,466.80 95.33,466.43 96.06,466.05 96.78,465.66 97.51,465.26 98.23,464.86 98.96,464.45 99.68,464.03 100.41,463.61 101.13,463.17 101.86,462.73 102.58,462.28 103.31,461.82 104.03,461.35 104.75,460.87 105.48,460.39 106.20,459.89 106.93,459.39 107.65,458.87 108.38,458.34 109.10,457.81 109.83,457.26 110.55,456.71 111.28,456.14 112.00,455.56 112.73,454.97 113.45,454.37 114.17,453.76 114.90,453.14 115.62,452.50 116.35,451.85 117.07,451.19 117.80,450.52 118.52,449.83 119.25,449.13 119.97,448.42 120.70,447.69 121.42,446.95 122.15,446.20 122.87,445.43 123.60,444.65 124.32,443.85 125.04,443.04 125.77,442.21 126.49,441.37 127.22,440.51 127.94,439.63 128.67,438.74 129.39,437.83 130.12,436.91 130.84,435.97 131.57,435.01 132.29,434.03 133.02,433.04 133.74,432.03 134.47,431.00 135.19,429.95 135.91,428.89 136.64,427.81 137.36,426.71 138.09,425.59 138.81,424.45 139.54,423.29 140.26,422.12 140.99,420.92 141.71,419.71 142.44,418.48 143.16,417.23 143.89,415.95 144.61,414.67 145.33,413.36 146.06,412.03 146.78,410.68 147.51,409.32 148.23,407.94 148.96,406.53 149.68,405.11 150.41,403.68 151.13,402.22 151.86,400.75 152.58,399.26 153.31,397.75 154.03,396.22 154.76,394.68 155.48,393.13 156.20,391.56 156.93,389.97 157.65,388.37 158.38,386.75 159.10,385.13 159.83,383.48 160.55,381.83 161.28,380.17 162.00,378.49 162.73,376.81 163.45,375.12 164.18,373.42 164.90,371.71 165.62,369.99 166.35,368.27 167.07,366.55 167.80,364.82 168.52,363.09 169.25,361.36 169.97,359.63 170.70,357.90 171.42,356.17 172.15,354.45 172.87,352.73 173.60,351.02 174.32,349.32 175.05,347.62 175.77,345.94 176.49,344.26 177.22,342.61 177.94,340.96 178.67,339.33 179.39,337.72 180.12,336.13 180.84,334.56 181.57,333.01 182.29,331.49 183.02,329.99 183.74,328.51 184.47,327.07 185.19,325.65 185.92,324.27 186.64,322.92 187.36,321.60 188.09,320.32 188.81,319.08 189.54,317.88 190.26,316.71 190.99,315.59 191.71,314.51 192.44,313.47 193.16,312.48 193.89,311.54 194.61,310.64 195.34,309.79 196.06,308.99 196.78,308.24 197.51,307.54 198.23,306.90 198.96,306.31 199.68,305.77 200.41,305.29 201.13,304.86 201.86,304.49 202.58,304.18 203.31,303.92 204.03,303.72 204.76,303.57 205.48,303.49 206.21,303.46 206.93,303.49 207.65,303.58 208.38,303.72 209.10,303.92 209.83,304.18 210.55,304.50 211.28,304.87 212.00,305.30 212.73,305.78 213.45,306.32 214.18,306.92 214.90,307.56 215.63,308.26 216.35,309.01 217.08,309.81 217.80,310.66 218.52,311.56 219.25,312.50 219.97,313.50 220.70,314.54 221.42,315.62 222.15,316.74 222.87,317.91 223.60,319.11 224.32,320.36 225.05,321.64 225.77,322.95 226.50,324.31 227.22,325.69 227.94,327.11 228.67,328.55 229.39,330.02 230.12,331.52 230.84,333.05 231.57,334.60 232.29,336.17 233.02,337.76 233.74,339.37 234.47,341.00 235.19,342.65 235.92,344.31 236.64,345.98 237.37,347.66 238.09,349.36 238.81,351.06 239.54,352.78 240.26,354.49 240.99,356.22 241.71,357.94 242.44,359.67 243.16,361.40 243.89,363.13 244.61,364.86 245.34,366.59 246.06,368.32 246.79,370.04 247.51,371.75 248.24,373.46 248.96,375.16 249.68,376.85 250.41,378.54 251.13,380.21 251.86,381.87 252.58,383.53 253.31,385.17 254.03,386.79 254.76,388.41 255.48,390.01 256.21,391.60 256.93,393.17 257.66,394.72 258.38,396.26 259.10,397.79 259.83,399.29 260.55,400.79 261.28,402.26 262.00,403.71 262.73,405.15 263.45,406.57 264.18,407.97 264.90,409.35 265.63,410.72 266.35,412.06 267.08,413.39 267.80,414.70 268.53,415.99 269.25,417.26 269.97,418.51 270.70,419.74 271.42,420.95 272.15,422.15 272.87,423.32 273.60,424.48 274.32,425.62 275.05,426.73 275.77,427.83 276.50,428.92 277.22,429.98 277.95,431.03 278.67,432.05 279.40,433.06 280.12,434.06 280.84,435.03 281.57,435.99 282.29,436.93 283.02,437.85 283.74,438.76 284.47,439.65 285.19,440.53 285.92,441.39 286.64,442.23 287.37,443.06 288.09,443.87 288.82,444.67 289.54,445.45 290.26,446.22 290.99,446.97 291.71,447.71 292.44,448.44 293.16,449.15 293.89,449.85 294.61,450.54 295.34,451.21 296.06,451.87 296.79,452.52 297.51,453.15 298.24,453.78 298.96,454.39 299.69,454.99 300.41,455.58 301.13,456.15 301.86,456.72 302.58,457.28 303.31,457.82 304.03,458.36 304.76,458.88 305.48,459.40 306.21,459.90 306.93,460.40 307.66,460.89 308.38,461.36 309.11,461.83 309.83,462.29 310.56,462.74 311.28,463.18 312.00,463.62 312.73,464.04 313.45,464.46 314.18,464.87 314.90,465.27 315.63,465.67 316.35,466.06 317.08,466.44 317.80,466.81 318.53,467.17 319.25,467.53 319.98,467.89 320.70,468.23 321.42,468.57 322.15,468.90 322.87,469.23 323.60,469.55 324.32,469.86 325.05,470.17 325.77,470.47 326.50,470.76 327.22,471.05 327.95,471.33 328.67,471.61 329.40,471.89 330.12,472.15 330.85,472.41 331.57,472.67 332.29,472.92 333.02,473.17 333.74,473.41 334.47,473.64 335.19,473.87 335.92,474.10 336.64,474.32 337.37,474.53 338.09,474.74 338.82,474.95 339.54,475.15 340.27,475.35 340.99,475.54 341.71,475.73 342.44,475.91 343.16,476.09 343.89,476.27 344.61,476.44 345.34,476.61 346.06,476.77 346.79,476.93 347.51,477.08 348.24,477.23 348.96,477.38 349.69,477.52 350.41,477.66 351.14,477.80" stroke="#ff0000" stroke-dasharray="11.13 4.82" stroke-dashoffset="-0.3"/>
<polyline points="62.00,482.01 62.72,482.00 63.45,481.99 64.17,481.97 64.90,481.96 65.62,481.95 66.35,481.93 67.07,481.91 67.80,481.90 68.52,481.88 69.25,481.86 69.97,481.84 70.70,481.82 71.42,481.80 72.15,481.78 72.87,481.75 73.59,481.73 74.32,481.70 75.04,481.68 75.77,481.65 76.49,481.63 77.22,481.60 77.94,481.57 78.67,481.54 79.39,481.51 80.12,481.48 80.84,481.45 81.57,481.41 82.29,481.38 83.01,481.34 83.74,481.31 84.46,481.27 85.19,481.24 85.91,481.20 86.64,481.16 87.36,481.12 88.09,481.08 88.81,481.04 89.54,481.00 90.26,480.95 90.99,480.91 91.71,480.87 92.44,480.82 93.16,480.77 93.88,480.73 94.61,480.68 95.33,480.63 96.06,480.58 96.78,480.53 97.51,480.48 98.23,480.43 98.96,480.38 99.68,480.32 100.41,480.27 101.13,480.21 101.86,480.16 102.58,480.10 103.31,480.04 104.03,479.98 104.75,479.92 105.48,479.86 106.20,479.80 106.93,479.74 107.65,479.67 108.38,479.61 109.10,479.54 109.83,479.48 110.55,479.41 111.28,479.34 112.00,479.27 112.73,479.20 113.45,479.13 114.17,479.06 114.90,478.99 115.62,478.91 116.35,478.84 117.07,478.76 117.80,478.68 118.52,478.61 119.25,478.53 119.97,478.45 120.70,478.37 121.42,478.28 122.15,478.20 122.87,478.11 123.60,478.03 124.32,477.94 125.04,477.85 125.77,477.76 126.49,477.67 127.22,477.58 127.94,477.49 128.67,477.40 129.39,477.30 130.12,477.20 130.84,477.11 131.57,477.01 132.29,476.91 133.02,476.81 133.74,476.71 134.47,476.60 135.19,476.50 135.91,476.39 136.64,476.28 137.36,476.18 138.09,476.07 138.81,475.95 139.54,475.84 140.26,475.73 140.99,475.61 141.71,475.50 142.44,475.38 143.16,475.26 143.89,475.14 144.61,475.02 145.33,474.90 146.06,474.78 146.78,474.65 147.51,474.53 148.23,474.40 148.96,474.27 149.68,474.14 150.41,474.01 151.13,473.88 151.86,473.75 152.58,473.61 153.31,473.48 154.03,473.34 154.76,473.21 155.48,473.07 156.20,472.93 156.93,472.79 157.65,472.65 158.38,472.51 159.10,472.37 159.83,472.22 160.55,472.08 161.28,471.94 162.00,471.79 162.73,471.65 163.45,471.50 164.18,471.36 164.90,471.21 165.62,471.07 166.35,470.92 167.07,470.77 167.80,470.63 168.52,470.48 169.25,470.33 169.97,470.19 170.70,470.04 171.42,469.90 172.15,469.75 172.87,469.61 173.60,469.46 174.32,469.32 175.05,469.18 175.77,469.04 176.49,468.90 177.22,468.76 177.94,468.62 178.67,468.49 179.39,468.35 180.12,468.22 180.84,468.09 181.57,467.96 182.29,467.83 183.02,467.71 183.74,467.59 184.47,467.47 185.19,467.35 185.92,467.23 186.64,467.12 187.36,467.01 188.09,466.91 188.81,466.80 189.54,466.70 190.26,466.61 190.99,466.51 191.71,466.42 192.44,466.34 193.16,466.25 193.89,466.18 194.61,466.10 195.34,466.03 196.06,465.96 196.78,465.90 197.51,465.84 198.23,465.79 198.96,465.74 199.68,465.70 200.41,465.66 201.13,465.62 201.86,465.59 202.58,465.56 203.31,465.54 204.03,465.53 204.76,465.51 205.48,465.51 206.21,465.50 206.93,465.51 207.65,465.51 208.38,465.53 209.10,465.54 209.83,465.56 210.55,465.59 211.28,465.62 212.00,465.66 212.73,465.70 213.45,465.74 214.18,465.79 214.90,465.85 215.63,465.90 216.35,465.97 217.08,466.03 217.80,466.10 218.52,466.18 219.25,466.26 219.97,466.34 220.70,466.42 221.42,466.51 222.15,466.61 222.87,466.70 223.60,466.80 224.32,466.91 225.05,467.01 225.77,467.12 226.50,467.24 227.22,467.35 227.94,467.47 228.67,467.59 229.39,467.71 230.12,467.84 230.84,467.96 231.57,468.09 232.29,468.22 233.02,468.35 233.74,468.49 234.47,468.63 235.19,468.76 235.92,468.90 236.64,469.04 237.37,469.18 238.09,469.32 238.81,469.47 239.54,469.61 240.26,469.75 240.99,469.90 241.71,470.04 242.44,470.19 243.16,470.34 243.89,470.48 244.61,470.63 245.34,470.78 246.06,470.92 246.79,471.07 247.51,471.22 248.24,471.36 248.96,471.51 249.68,471.65 250.41,471.80 251.13,471.94 251.86,472.09 252.58,472.23 253.31,472.37 254.03,472.51 254.76,472.65 255.48,472.79 256.21,472.93 256.93,473.07 257.66,473.21 258.38,473.35 259.10,473.48 259.83,473.62 260.55,473.75 261.28,473.88 262.00,474.01 262.73,474.14 263.45,474.27 264.18,474.40 264.90,474.53 265.63,474.65 266.35,474.78 267.08,474.90 267.80,475.02 268.53,475.15 269.25,475.27 269.97,475.38 270.70,475.50 271.42,475.62 272.15,475.73 272.87,475.85 273.60,475.96 274.32,476.07 275.05,476.18 275.77,476.29 276.50,476.39 277.22,476.50 277.95,476.60 278.67,476.71 279.40,476.81 280.12,476.91 280.84,477.01 281.57,477.11 282.29,477.21 283.02,477.30 283.74,477.40 284.47,477.49 285.19,477.58 285.92,477.68 286.64,477.77 287.37,477.86 288.09,477.94 288.82,478.03 289.54,478.12 290.26,478.20 290.99,478.28 291.71,478.37 292.44,478.45 293.16,478.53 293.89,478.61 294.61,478.69 295.34,478.76 296.06,478.84 296.79,478.91 297.51,478.99 298.24,479.06 298.96,479.13 299.69,479.20 300.41,479.28 301.13,479.34 301.86,479.41 302.58,479.48 303.31,479.55 304.03,479.61 304.76,479.68 305.48,479.74 306.21,479.80 306.93,479.86 307.66,479.92 308.38,479.98 309.11,480.04 309.83,480.10 310.56,480.16 311.28,480.21 312.00,480.27 312.73,480.32 313.45,480.38 314.18,480.43 314.90,480.48 315.63,480.53 316.35,480.58 317.08,480.63 317.80,480.68 318.53,480.73 319.25,480.78 319.98,480.82 320.70,480.87 321.42,480.91 322.15,480.95 322.87,481.00 323.60,481.04 324.32,481.08 325.05,481.12 325.77,481.16 326.50,481.20 327.22,481.24 327.95,481.27 328.67,481.31 329.40,481.35 330.12,481.38 330.85,481.41 331.57,481.45 332.29,481.48 333.02,481.51 333.74,481.54 334.47,481.57 335.19,481.60 335.92,481.63 336.64,481.65 337.37,481.68 338.09,481.71 338.82,481.73 339.54,481.75 340.27,481.78 340.99,481.80 341.71,481.82 342.44,481.84 343.16,481.86 343.89,481.88 344.61,481.90 345.34,481.91 346.06,481.93 346.79,481.95 347.51,481.96 348.24,481.97 348.96,481.99 349.69,482.00 350.41,482.01 351.14,482.02" stroke="#000" stroke-linecap="square"/>
<polyline points="62.00,479.53 62.72,479.51 63.45,479.48 64.17,479.45 64.90,479.42 65.62,479.39 66.35,479.35 67.07,479.32 67.80,479.28 68.52,479.24 69.25,479.19 69.97,479.15 70.70,479.10 71.42,479.05 72.15,479.00 72.87,478.94 73.59,478.89 74.32,478.83 75.04,478.77 75.77,478.71 76.49,478.65 77.22,478.58 77.94,478.51 78.67,478.44 79.39,478.37 80.12,478.30 80.84,478.22 81.57,478.15 82.29,478.07 83.01,477.99 83.74,477.91 84.46,477.82 85.19,477.73 85.91,477.65 86.64,477.56 87.36,477.46 88.09,477.37 88.81,477.27 89.54,477.18 90.26,477.08 90.99,476.98 91.71,476.87 92.44,476.77 93.16,476.66 93.88,476.55 94.61,476.44 95.33,476.33 96.06,476.22 96.78,476.10 97.51,475.98 98.23,475.86 98.96,475.74 99.68,475.62 100.41,475.49 101.13,475.36 101.86,475.24 102.58,475.10 103.31,474.97 104.03,474.84 104.75,474.70 105.48,474.56 106.20,474.42 106.93,474.28 107.65,474.13 108.38,473.99 109.10,473.84 109.83,473.69 110.55,473.53 111.28,473.38 112.00,473.22 112.73,473.06 113.45,472.90 114.17,472.74 114.90,472.57 115.62,472.41 116.35,472.24 117.07,472.07 117.80,471.89 118.52,471.72 119.25,471.54 119.97,471.36 120.70,471.17 121.42,470.99 122.15,470.80 122.87,470.61 123.60,470.42 124.32,470.23 125.04,470.03 125.77,469.83 126.49,469.63 127.22,469.42 127.94,469.22 128.67,469.01 129.39,468.80 130.12,468.58 130.84,468.37 131.57,468.15 132.29,467.93 133.02,467.70 133.74,467.48 134.47,467.25 135.19,467.01 135.91,466.78 136.64,466.54 137.36,466.30 138.09,466.06 138.81,465.82 139.54,465.57 140.26,465.32 140.99,465.07 141.71,464.81 142.44,464.56 143.16,464.30 143.89,464.03 144.61,463.77 145.33,463.50 146.06,463.23 146.78,462.96 147.51,462.68 148.23,462.40 148.96,462.12 149.68,461.84 150.41,461.56 151.13,461.27 151.86,460.98 152.58,460.69 153.31,460.40 154.03,460.10 154.76,459.80 155.48,459.51 156.20,459.20 156.93,458.90 157.65,458.60 158.38,458.29 159.10,457.98 159.83,457.67 160.55,457.36 161.28,457.05 162.00,456.74 162.73,456.43 163.45,456.11 164.18,455.80 164.90,455.48 165.62,455.17 166.35,454.85 167.07,454.54 167.80,454.22 168.52,453.90 169.25,453.59 169.97,453.27 170.70,452.96 171.42,452.65 172.15,452.34 172.87,452.03 173.60,451.72 174.32,451.41 175.05,451.11 175.77,450.80 176.49,450.50 177.22,450.21 177.94,449.91 178.67,449.62 179.39,449.33 180.12,449.05 180.84,448.77 181.57,448.49 182.29,448.22 183.02,447.96 183.74,447.69 184.47,447.44 185.19,447.19 185.92,446.94 186.64,446.70 187.36,446.47 188.09,446.24 188.81,446.02 189.54,445.81 190.26,445.60 190.99,445.40 191.71,445.21 192.44,445.03 193.16,444.85 193.89,444.68 194.61,444.52 195.34,444.37 196.06,444.23 196.78,444.10 197.51,443.98 198.23,443.86 198.96,443.76 199.68,443.66 200.41,443.58 201.13,443.50 201.86,443.44 202.58,443.38 203.31,443.34 204.03,443.30 204.76,443.27 205.48,443.26 206.21,443.25 206.93,443.26 207.65,443.27 208.38,443.30 209.10,443.34 209.83,443.38 210.55,443.44 211.28,443.50 212.00,443.58 212.73,443.67 213.45,443.76 214.18,443.87 214.90,443.98 215.63,444.10 216.35,444.24 217.08,444.38 217.80,444.53 218.52,444.69 219.25,444.85 219.97,445.03 220.70,445.21 221.42,445.41 222.15,445.60 222.87,445.81 223.60,446.02 224.32,446.25 225.05,446.47 225.77,446.71 226.50,446.95 227.22,447.19 227.94,447.44 228.67,447.70 229.39,447.96 230.12,448.23 230.84,448.50 231.57,448.78 232.29,449.06 233.02,449.34 233.74,449.63 234.47,449.92 235.19,450.21 235.92,450.51 236.64,450.81 237.37,451.11 238.09,451.42 238.81,451.73 239.54,452.03 240.26,452.34 240.99,452.66 241.71,452.97 242.44,453.28 243.16,453.60 243.89,453.91 244.61,454.23 245.34,454.54 246.06,454.86 246.79,455.18 247.51,455.49 248.24,455.81 248.96,456.12 249.68,456.44 250.41,456.75 251.13,457.06 251.86,457.37 252.58,457.68 253.31,457.99 254.03,458.30 254.76,458.60 255.48,458.91 256.21,459.21 256.93,459.51 257.66,459.81 258.38,460.11 259.10,460.40 259.83,460.70 260.55,460.99 261.28,461.28 262.00,461.56 262.73,461.85 263.45,462.13 264.18,462.41 264.90,462.69 265.63,462.96 266.35,463.24 267.08,463.51 267.80,463.77 268.53,464.04 269.25,464.30 269.97,464.56 270.70,464.82 271.42,465.07 272.15,465.33 272.87,465.58 273.60,465.82 274.32,466.07 275.05,466.31 275.77,466.55 276.50,466.79 277.22,467.02 277.95,467.25 278.67,467.48 279.40,467.71 280.12,467.93 280.84,468.15 281.57,468.37 282.29,468.59 283.02,468.80 283.74,469.01 284.47,469.22 285.19,469.43 285.92,469.63 286.64,469.83 287.37,470.03 288.09,470.23 288.82,470.42 289.54,470.62 290.26,470.81 290.99,470.99 291.71,471.18 292.44,471.36 293.16,471.54 293.89,471.72 294.61,471.90 295.34,472.07 296.06,472.24 296.79,472.41 297.51,472.58 298.24,472.74 298.96,472.91 299.69,473.07 300.41,473.23 301.13,473.38 301.86,473.54 302.58,473.69 303.31,473.84 304.03,473.99 304.76,474.14 305.48,474.28 306.21,474.42 306.93,474.56 307.66,474.70 308.38,474.84 309.11,474.97 309.83,475.11 310.56,475.24 311.28,475.37 312.00,475.50 312.73,475.62 313.45,475.74 314.18,475.87 314.90,475.99 315.63,476.10 316.35,476.22 317.08,476.33 317.80,476.45 318.53,476.56 319.25,476.66 319.98,476.77 320.70,476.88 321.42,476.98 322.15,477.08 322.87,477.18 323.60,477.28 324.32,477.37 325.05,477.47 325.77,477.56 326.50,477.65 327.22,477.74 327.95,477.82 328.67,477.91 329.40,477.99 330.12,478.07 330.85,478.15 331.57,478.23 332.29,478.30 333.02,478.37 333.74,478.45 334.47,478.52 335.19,478.58 335.92,478.65 336.64,478.71 337.37,478.77 338.09,478.83 338.82,478.89 339.54,478.95 340.27,479.00 340.99,479.05 341.71,479.10 342.44,479.15 343.16,479.19 343.89,479.24 344.61,479.28 345.34,479.32 346.06,479.35 346.79,479.39 347.51,479.42 348.24,479.45 348.96,479.48 349.69,479.51 350.41,479.53 351.14,479.56" stroke="#000" stroke-dasharray="11.13 4.82" stroke-dashoffset="-0.3"/>
</g>
<path d="M62.00 491.55v7.0M154.88 491.55v7.0M247.76 491.55v7.0M340.64 491.55v7.0M62.0 483.60h-7.0M62.0 446.58h-7.0M62.0 409.56h-7.0M62.0 372.54h-7.0M62.0 335.52h-7.0M62.0 298.50h-7.0" stroke="#000" stroke-width="1.4" fill="none"/>
<rect x="62.0" y="293.9" width="288.83" height="197.65" fill="none" stroke="#000" stroke-width="1.4"/>
<g font-size="15.2" fill="#000">
<text x="62.40" y="517.15" text-anchor="middle">0</text>
<text x="155.28" y="517.15" text-anchor="middle">100</text>
<text x="248.16" y="517.15" text-anchor="middle">200</text>
<text x="341.04" y="517.15" text-anchor="middle">300</text>
<text x="48.40" y="489.15" text-anchor="end">0</text>
<text x="48.40" y="452.13" text-anchor="end">1</text>
<text x="48.40" y="415.11" text-anchor="end">2</text>
<text x="48.40" y="378.09" text-anchor="end">3</text>
<text x="48.40" y="341.07" text-anchor="end">4</text>
<text x="48.40" y="304.05" text-anchor="end">5</text>
</g>
<text x="176.98" y="281.9" font-size="18.6" textLength="58.41" lengthAdjust="spacingAndGlyphs">Correct</text>
<text x="174.46" y="538.8" font-size="16.2" textLength="66.39" lengthAdjust="spacingAndGlyphs">Time in s</text>
<g transform="translate(12.1 446.73) rotate(-90)"><text x="0.20" y="0" font-size="16.2" textLength="109.58" lengthAdjust="spacingAndGlyphs">BSM rate in Hz</text></g>
<path d="M394.35 293.9V491.55M487.23 293.9V491.55M580.11 293.9V491.55M672.99 293.9V491.55M394.35 482.70H683.00M394.35 445.83H683.00M394.35 408.96H683.00M394.35 372.09H683.00M394.35 335.22H683.00M394.35 298.35H683.00" stroke="#b0b0b0" stroke-width="1.4" fill="none"/>
<g clip-path="url(#c3)" fill="none" stroke-width="2.9" stroke-linejoin="round">
<polyline points="394.35,481.47 395.07,481.43 395.80,481.38 396.52,481.33 397.25,481.28 397.97,481.23 398.70,481.18 399.42,481.13 400.15,481.07 400.87,481.01 401.60,480.95 402.32,480.89 403.05,480.82 403.77,480.76 404.50,480.69 405.22,480.62 405.94,480.54 406.67,480.47 407.39,480.39 408.12,480.31 408.84,480.23 409.57,480.14 410.29,480.05 411.02,479.96 411.74,479.86 412.47,479.77 413.19,479.67 413.92,479.56 414.64,479.46 415.36,479.35 416.09,479.24 416.81,479.12 417.54,479.00 418.26,478.88 418.99,478.75 419.71,478.62 420.44,478.49 421.16,478.35 421.89,478.21 422.61,478.06 423.34,477.91 424.06,477.76 424.79,477.60 425.51,477.44 426.23,477.27 426.96,477.10 427.68,476.93 428.41,476.75 429.13,476.56 429.86,476.37 430.58,476.17 431.31,475.97 432.03,475.77 432.76,475.56 433.48,475.34 434.21,475.12 434.93,474.89 435.66,474.66 436.38,474.42 437.10,474.17 437.83,473.92 438.55,473.66 439.28,473.39 440.00,473.12 440.73,472.84 441.45,472.55 442.18,472.26 442.90,471.96 443.63,471.65 444.35,471.33 445.08,471.01 445.80,470.68 446.52,470.34 447.25,469.99 447.97,469.63 448.70,469.27 449.42,468.89 450.15,468.51 450.87,468.12 451.60,467.71 452.32,467.30 453.05,466.88 453.77,466.45 454.50,466.01 455.22,465.56 455.95,465.09 456.67,464.62 457.39,464.14 458.12,463.64 458.84,463.14 459.57,462.62 460.29,462.09 461.02,461.55 461.74,461.00 462.47,460.43 463.19,459.85 463.92,459.26 464.64,458.66 465.37,458.05 466.09,457.42 466.82,456.78 467.54,456.12 468.26,455.45 468.99,454.77 469.71,454.08 470.44,453.37 471.16,452.65 471.89,451.91 472.61,451.16 473.34,450.39 474.06,449.61 474.79,448.82 475.51,448.01 476.24,447.19 476.96,446.35 477.68,445.50 478.41,444.64 479.13,443.76 479.86,442.86 480.58,441.95 481.31,441.03 482.03,440.09 482.76,439.14 483.48,438.17 484.21,437.20 484.93,436.20 485.66,435.20 486.38,434.18 487.11,433.15 487.83,432.10 488.55,431.05 489.28,429.98 490.00,428.90 490.73,427.81 491.45,426.70 492.18,425.59 492.90,424.47 493.63,423.34 494.35,422.19 495.08,421.04 495.80,419.89 496.53,418.72 497.25,417.55 497.97,416.37 498.70,415.19 499.42,414.00 500.15,412.81 500.87,411.62 501.60,410.42 502.32,409.23 503.05,408.03 503.77,406.83 504.50,405.63 505.22,404.44 505.95,403.25 506.67,402.06 507.40,400.88 508.12,399.70 508.84,398.54 509.57,397.37 510.29,396.22 511.02,395.08 511.74,393.95 512.47,392.84 513.19,391.73 513.92,390.65 514.64,389.57 515.37,388.52 516.09,387.48 516.82,386.46 517.54,385.47 518.27,384.49 518.99,383.54 519.71,382.61 520.44,381.70 521.16,380.82 521.89,379.97 522.61,379.15 523.34,378.35 524.06,377.59 524.79,376.85 525.51,376.15 526.24,375.48 526.96,374.84 527.69,374.24 528.41,373.67 529.13,373.14 529.86,372.65 530.58,372.19 531.31,371.77 532.03,371.39 532.76,371.04 533.48,370.74 534.21,370.48 534.93,370.25 535.66,370.07 536.38,369.93 537.11,369.82 537.83,369.76 538.56,369.74 539.28,369.76 540.00,369.83 540.73,369.93 541.45,370.07 542.18,370.26 542.90,370.48 543.63,370.75 544.35,371.05 545.08,371.40 545.80,371.78 546.53,372.20 547.25,372.66 547.98,373.15 548.70,373.69 549.43,374.25 550.15,374.86 550.87,375.50 551.60,376.17 552.32,376.87 553.05,377.61 553.77,378.37 554.50,379.17 555.22,379.99 555.95,380.85 556.67,381.72 557.40,382.63 558.12,383.56 558.85,384.51 559.57,385.49 560.29,386.49 561.02,387.51 561.74,388.54 562.47,389.60 563.19,390.67 563.92,391.76 564.64,392.87 565.37,393.98 566.09,395.11 566.82,396.25 567.54,397.40 568.27,398.56 568.99,399.73 569.72,400.91 570.44,402.09 571.16,403.28 571.89,404.47 572.61,405.66 573.34,406.86 574.06,408.06 574.79,409.26 575.51,410.45 576.24,411.65 576.96,412.84 577.69,414.03 578.41,415.22 579.14,416.40 579.86,417.58 580.59,418.75 581.31,419.92 582.03,421.07 582.76,422.22 583.48,423.36 584.21,424.50 584.93,425.62 585.66,426.73 586.38,427.83 587.11,428.93 587.83,430.01 588.56,431.07 589.28,432.13 590.01,433.17 590.73,434.21 591.45,435.22 592.18,436.23 592.90,437.22 593.63,438.20 594.35,439.16 595.08,440.12 595.80,441.05 596.53,441.97 597.25,442.88 597.98,443.78 598.70,444.66 599.43,445.52 600.15,446.37 600.88,447.21 601.60,448.03 602.32,448.84 603.05,449.63 603.77,450.41 604.50,451.18 605.22,451.93 605.95,452.66 606.67,453.39 607.40,454.10 608.12,454.79 608.85,455.47 609.57,456.14 610.30,456.79 611.02,457.43 611.75,458.06 612.47,458.68 613.19,459.28 613.92,459.87 614.64,460.45 615.37,461.01 616.09,461.56 616.82,462.10 617.54,462.63 618.27,463.15 618.99,463.66 619.72,464.15 620.44,464.63 621.17,465.11 621.89,465.57 622.61,466.02 623.34,466.46 624.06,466.89 624.79,467.31 625.51,467.72 626.24,468.13 626.96,468.52 627.69,468.90 628.41,469.28 629.14,469.64 629.86,470.00 630.59,470.35 631.31,470.69 632.04,471.02 632.76,471.34 633.48,471.66 634.21,471.97 634.93,472.27 635.66,472.56 636.38,472.85 637.11,473.13 637.83,473.40 638.56,473.66 639.28,473.92 640.01,474.18 640.73,474.42 641.46,474.66 642.18,474.90 642.91,475.12 643.63,475.35 644.35,475.56 645.08,475.77 645.80,475.98 646.53,476.18 647.25,476.38 647.98,476.57 648.70,476.75 649.43,476.93 650.15,477.11 650.88,477.28 651.60,477.44 652.33,477.61 653.05,477.76 653.77,477.92 654.50,478.07 655.22,478.21 655.95,478.35 656.67,478.49 657.40,478.62 658.12,478.75 658.85,478.88 659.57,479.00 660.30,479.12 661.02,479.24 661.75,479.35 662.47,479.46 663.20,479.57 663.92,479.67 664.64,479.77 665.37,479.87 666.09,479.96 666.82,480.05 667.54,480.14 668.27,480.23 668.99,480.31 669.72,480.39 670.44,480.47 671.17,480.55 671.89,480.62 672.62,480.69 673.34,480.76 674.06,480.83 674.79,480.89 675.51,480.95 676.24,481.01 676.96,481.07 677.69,481.13 678.41,481.18 679.14,481.23 679.86,481.29 680.59,481.33 681.31,481.38 682.04,481.43 682.76,481.47 683.49,481.52" stroke="#ff0000" stroke-linecap="square"/>
<polyline points="394.35,476.78 395.07,476.64 395.80,476.50 396.52,476.36 397.25,476.20 397.97,476.05 398.70,475.89 399.42,475.73 400.15,475.56 400.87,475.39 401.60,475.22 402.32,475.04 403.05,474.86 403.77,474.67 404.50,474.48 405.22,474.28 405.94,474.08 406.67,473.87 407.39,473.66 408.12,473.45 408.84,473.23 409.57,473.01 410.29,472.78 411.02,472.54 411.74,472.30 412.47,472.06 413.19,471.81 413.92,471.55 414.64,471.29 415.36,471.03 416.09,470.75 416.81,470.48 417.54,470.20 418.26,469.91 418.99,469.61 419.71,469.31 420.44,469.01 421.16,468.69 421.89,468.38 422.61,468.05 423.34,467.72 424.06,467.38 424.79,467.04 425.51,466.69 426.23,466.33 426.96,465.97 427.68,465.60 428.41,465.22 429.13,464.83 429.86,464.44 430.58,464.04 431.31,463.63 432.03,463.21 432.76,462.79 433.48,462.36 434.21,461.92 434.93,461.47 435.66,461.01 436.38,460.54 437.10,460.07 437.83,459.58 438.55,459.09 439.28,458.58 440.00,458.07 440.73,457.55 441.45,457.01 442.18,456.47 442.90,455.92 443.63,455.35 444.35,454.78 445.08,454.19 445.80,453.59 446.52,452.98 447.25,452.36 447.97,451.73 448.70,451.08 449.42,450.42 450.15,449.75 450.87,449.07 451.60,448.37 452.32,447.66 453.05,446.94 453.77,446.20 454.50,445.45 455.22,444.69 455.95,443.91 456.67,443.11 457.39,442.30 458.12,441.48 458.84,440.64 459.57,439.78 460.29,438.91 461.02,438.02 461.74,437.12 462.47,436.20 463.19,435.26 463.92,434.30 464.64,433.33 465.37,432.34 466.09,431.34 466.82,430.31 467.54,429.27 468.26,428.21 468.99,427.13 469.71,426.04 470.44,424.92 471.16,423.79 471.89,422.64 472.61,421.47 473.34,420.28 474.06,419.07 474.79,417.84 475.51,416.59 476.24,415.33 476.96,414.04 477.68,412.74 478.41,411.42 479.13,410.08 479.86,408.72 480.58,407.34 481.31,405.95 482.03,404.53 482.76,403.10 483.48,401.65 484.21,400.18 484.93,398.70 485.66,397.20 486.38,395.68 487.11,394.14 487.83,392.59 488.55,391.03 489.28,389.45 490.00,387.85 490.73,386.25 491.45,384.62 492.18,382.99 492.90,381.34 493.63,379.69 494.35,378.02 495.08,376.34 495.80,374.66 496.53,372.96 497.25,371.26 497.97,369.55 498.70,367.84 499.42,366.12 500.15,364.40 500.87,362.68 501.60,360.96 502.32,359.23 503.05,357.51 503.77,355.79 504.50,354.07 505.22,352.36 505.95,350.66 506.67,348.96 507.40,347.27 508.12,345.60 508.84,343.93 509.57,342.28 510.29,340.64 511.02,339.02 511.74,337.41 512.47,335.83 513.19,334.26 513.92,332.72 514.64,331.20 515.37,329.71 516.09,328.24 516.82,326.80 517.54,325.39 518.27,324.02 518.99,322.67 519.71,321.36 520.44,320.09 521.16,318.85 521.89,317.65 522.61,316.49 523.34,315.37 524.06,314.29 524.79,313.26 525.51,312.27 526.24,311.33 526.96,310.44 527.69,309.59 528.41,308.80 529.13,308.05 529.86,307.36 530.58,306.72 531.31,306.13 532.03,305.59 532.76,305.11 533.48,304.69 534.21,304.32 534.93,304.00 535.66,303.75 536.38,303.55 537.11,303.40 537.83,303.32 538.56,303.29 539.28,303.32 540.00,303.41 540.73,303.55 541.45,303.75 542.18,304.01 542.90,304.33 543.63,304.70 544.35,305.12 545.08,305.61 545.80,306.14 546.53,306.73 547.25,307.37 547.98,308.07 548.70,308.82 549.43,309.61 550.15,310.46 550.87,311.36 551.60,312.30 552.32,313.29 553.05,314.32 553.77,315.40 554.50,316.52 555.22,317.68 555.95,318.88 556.67,320.12 557.40,321.39 558.12,322.71 558.85,324.05 559.57,325.43 560.29,326.84 561.02,328.28 561.74,329.75 562.47,331.24 563.19,332.76 563.92,334.30 564.64,335.87 565.37,337.45 566.09,339.06 566.82,340.68 567.54,342.32 568.27,343.97 568.99,345.64 569.72,347.32 570.44,349.00 571.16,350.70 571.89,352.41 572.61,354.12 573.34,355.83 574.06,357.55 574.79,359.28 575.51,361.00 576.24,362.72 576.96,364.45 577.69,366.17 578.41,367.88 579.14,369.60 579.86,371.30 580.59,373.00 581.31,374.70 582.03,376.38 582.76,378.06 583.48,379.73 584.21,381.39 584.93,383.03 585.66,384.67 586.38,386.29 587.11,387.89 587.83,389.49 588.56,391.07 589.28,392.63 590.01,394.18 590.73,395.72 591.45,397.24 592.18,398.74 592.90,400.22 593.63,401.69 594.35,403.14 595.08,404.57 595.80,405.98 596.53,407.38 597.25,408.76 597.98,410.11 598.70,411.45 599.43,412.78 600.15,414.08 600.88,415.36 601.60,416.63 602.32,417.87 603.05,419.10 603.77,420.31 604.50,421.50 605.22,422.67 605.95,423.82 606.67,424.95 607.40,426.06 608.12,427.16 608.85,428.24 609.57,429.30 610.30,430.34 611.02,431.36 611.75,432.37 612.47,433.36 613.19,434.33 613.92,435.28 614.64,436.22 615.37,437.14 616.09,438.04 616.82,438.93 617.54,439.80 618.27,440.66 618.99,441.50 619.72,442.32 620.44,443.13 621.17,443.93 621.89,444.71 622.61,445.47 623.34,446.22 624.06,446.96 624.79,447.68 625.51,448.39 626.24,449.09 626.96,449.77 627.69,450.44 628.41,451.10 629.14,451.74 629.86,452.38 630.59,453.00 631.31,453.61 632.04,454.20 632.76,454.79 633.48,455.37 634.21,455.93 634.93,456.48 635.66,457.03 636.38,457.56 637.11,458.08 637.83,458.60 638.56,459.10 639.28,459.59 640.01,460.08 640.73,460.55 641.46,461.02 642.18,461.48 642.91,461.93 643.63,462.37 644.35,462.80 645.08,463.22 645.80,463.64 646.53,464.05 647.25,464.45 647.98,464.84 648.70,465.23 649.43,465.61 650.15,465.98 650.88,466.34 651.60,466.70 652.33,467.05 653.05,467.39 653.77,467.73 654.50,468.06 655.22,468.38 655.95,468.70 656.67,469.01 657.40,469.32 658.12,469.62 658.85,469.91 659.57,470.20 660.30,470.48 661.02,470.76 661.75,471.03 662.47,471.30 663.20,471.56 663.92,471.81 664.64,472.06 665.37,472.31 666.09,472.55 666.82,472.78 667.54,473.01 668.27,473.24 668.99,473.46 669.72,473.67 670.44,473.88 671.17,474.09 671.89,474.29 672.62,474.48 673.34,474.67 674.06,474.86 674.79,475.04 675.51,475.22 676.24,475.40 676.96,475.57 677.69,475.73 678.41,475.90 679.14,476.05 679.86,476.21 680.59,476.36 681.31,476.51 682.04,476.65 682.76,476.79 683.49,476.92" stroke="#ff0000" stroke-dasharray="11.13 4.82" stroke-dashoffset="-0.3"/>
<polyline points="394.35,482.64 395.07,482.64 395.80,482.64 396.52,482.64 397.25,482.64 397.97,482.63 398.70,482.63 399.42,482.63 400.15,482.63 400.87,482.62 401.60,482.62 402.32,482.62 403.05,482.62 403.77,482.61 404.50,482.61 405.22,482.61 405.94,482.61 406.67,482.60 407.39,482.60 408.12,482.60 408.84,482.59 409.57,482.59 410.29,482.58 411.02,482.58 411.74,482.58 412.47,482.57 413.19,482.57 413.92,482.56 414.64,482.56 415.36,482.55 416.09,482.55 416.81,482.54 417.54,482.54 418.26,482.53 418.99,482.53 419.71,482.52 420.44,482.52 421.16,482.51 421.89,482.50 422.61,482.50 423.34,482.49 424.06,482.48 424.79,482.48 425.51,482.47 426.23,482.46 426.96,482.45 427.68,482.45 428.41,482.44 429.13,482.43 429.86,482.42 430.58,482.41 431.31,482.40 432.03,482.39 432.76,482.38 433.48,482.37 434.21,482.36 434.93,482.35 435.66,482.34 436.38,482.33 437.10,482.32 437.83,482.31 438.55,482.30 439.28,482.29 440.00,482.27 440.73,482.26 441.45,482.25 442.18,482.24 442.90,482.22 443.63,482.21 444.35,482.20 445.08,482.18 445.80,482.17 446.52,482.15 447.25,482.14 447.97,482.12 448.70,482.11 449.42,482.09 450.15,482.07 450.87,482.06 451.60,482.04 452.32,482.02 453.05,482.00 453.77,481.99 454.50,481.97 455.22,481.95 455.95,481.93 456.67,481.91 457.39,481.89 458.12,481.87 458.84,481.85 459.57,481.83 460.29,481.81 461.02,481.79 461.74,481.77 462.47,481.74 463.19,481.72 463.92,481.70 464.64,481.68 465.37,481.65 466.09,481.63 466.82,481.61 467.54,481.58 468.26,481.56 468.99,481.53 469.71,481.51 470.44,481.48 471.16,481.45 471.89,481.43 472.61,481.40 473.34,481.37 474.06,481.34 474.79,481.32 475.51,481.29 476.24,481.26 476.96,481.23 477.68,481.20 478.41,481.17 479.13,481.14 479.86,481.11 480.58,481.08 481.31,481.05 482.03,481.02 482.76,480.99 483.48,480.96 484.21,480.93 484.93,480.89 485.66,480.86 486.38,480.83 487.11,480.80 487.83,480.76 488.55,480.73 489.28,480.70 490.00,480.66 490.73,480.63 491.45,480.60 492.18,480.56 492.90,480.53 493.63,480.49 494.35,480.46 495.08,480.43 495.80,480.39 496.53,480.36 497.25,480.32 497.97,480.29 498.70,480.25 499.42,480.22 500.15,480.18 500.87,480.15 501.60,480.12 502.32,480.08 503.05,480.05 503.77,480.01 504.50,479.98 505.22,479.95 505.95,479.91 506.67,479.88 507.40,479.85 508.12,479.82 508.84,479.78 509.57,479.75 510.29,479.72 511.02,479.69 511.74,479.66 512.47,479.63 513.19,479.60 513.92,479.57 514.64,479.54 515.37,479.51 516.09,479.48 516.82,479.46 517.54,479.43 518.27,479.40 518.99,479.38 519.71,479.35 520.44,479.33 521.16,479.31 521.89,479.28 522.61,479.26 523.34,479.24 524.06,479.22 524.79,479.20 525.51,479.18 526.24,479.16 526.96,479.15 527.69,479.13 528.41,479.12 529.13,479.10 529.86,479.09 530.58,479.08 531.31,479.07 532.03,479.06 532.76,479.05 533.48,479.04 534.21,479.03 534.93,479.03 535.66,479.02 536.38,479.02 537.11,479.02 537.83,479.02 538.56,479.02 539.28,479.02 540.00,479.02 540.73,479.02 541.45,479.02 542.18,479.03 542.90,479.03 543.63,479.04 544.35,479.05 545.08,479.06 545.80,479.07 546.53,479.08 547.25,479.09 547.98,479.10 548.70,479.12 549.43,479.13 550.15,479.15 550.87,479.17 551.60,479.18 552.32,479.20 553.05,479.22 553.77,479.24 554.50,479.26 555.22,479.28 555.95,479.31 556.67,479.33 557.40,479.35 558.12,479.38 558.85,479.40 559.57,479.43 560.29,479.46 561.02,479.48 561.74,479.51 562.47,479.54 563.19,479.57 563.92,479.60 564.64,479.63 565.37,479.66 566.09,479.69 566.82,479.72 567.54,479.75 568.27,479.78 568.99,479.82 569.72,479.85 570.44,479.88 571.16,479.91 571.89,479.95 572.61,479.98 573.34,480.02 574.06,480.05 574.79,480.08 575.51,480.12 576.24,480.15 576.96,480.19 577.69,480.22 578.41,480.25 579.14,480.29 579.86,480.32 580.59,480.36 581.31,480.39 582.03,480.43 582.76,480.46 583.48,480.50 584.21,480.53 584.93,480.56 585.66,480.60 586.38,480.63 587.11,480.67 587.83,480.70 588.56,480.73 589.28,480.76 590.01,480.80 590.73,480.83 591.45,480.86 592.18,480.90 592.90,480.93 593.63,480.96 594.35,480.99 595.08,481.02 595.80,481.05 596.53,481.08 597.25,481.11 597.98,481.14 598.70,481.17 599.43,481.20 600.15,481.23 600.88,481.26 601.60,481.29 602.32,481.32 603.05,481.35 603.77,481.37 604.50,481.40 605.22,481.43 605.95,481.45 606.67,481.48 607.40,481.51 608.12,481.53 608.85,481.56 609.57,481.58 610.30,481.61 611.02,481.63 611.75,481.65 612.47,481.68 613.19,481.70 613.92,481.72 614.64,481.75 615.37,481.77 616.09,481.79 616.82,481.81 617.54,481.83 618.27,481.85 618.99,481.87 619.72,481.89 620.44,481.91 621.17,481.93 621.89,481.95 622.61,481.97 623.34,481.99 624.06,482.01 624.79,482.02 625.51,482.04 626.24,482.06 626.96,482.07 627.69,482.09 628.41,482.11 629.14,482.12 629.86,482.14 630.59,482.15 631.31,482.17 632.04,482.18 632.76,482.20 633.48,482.21 634.21,482.22 634.93,482.24 635.66,482.25 636.38,482.26 637.11,482.27 637.83,482.29 638.56,482.30 639.28,482.31 640.01,482.32 640.73,482.33 641.46,482.34 642.18,482.35 642.91,482.36 643.63,482.37 644.35,482.38 645.08,482.39 645.80,482.40 646.53,482.41 647.25,482.42 647.98,482.43 648.70,482.44 649.43,482.45 650.15,482.45 650.88,482.46 651.60,482.47 652.33,482.48 653.05,482.48 653.77,482.49 654.50,482.50 655.22,482.50 655.95,482.51 656.67,482.52 657.40,482.52 658.12,482.53 658.85,482.53 659.57,482.54 660.30,482.54 661.02,482.55 661.75,482.55 662.47,482.56 663.20,482.56 663.92,482.57 664.64,482.57 665.37,482.58 666.09,482.58 666.82,482.58 667.54,482.59 668.27,482.59 668.99,482.60 669.72,482.60 670.44,482.60 671.17,482.61 671.89,482.61 672.62,482.61 673.34,482.61 674.06,482.62 674.79,482.62 675.51,482.62 676.24,482.62 676.96,482.63 677.69,482.63 678.41,482.63 679.14,482.63 679.86,482.64 680.59,482.64 681.31,482.64 682.04,482.64 682.76,482.64 683.49,482.64" stroke="#000" stroke-linecap="square"/>
<polyline points="394.35,478.65 395.07,478.63 395.80,478.60 396.52,478.57 397.25,478.54 397.97,478.51 398.70,478.47 399.42,478.43 400.15,478.39 400.87,478.35 401.60,478.31 402.32,478.26 403.05,478.22 403.77,478.17 404.50,478.12 405.22,478.06 405.94,478.01 406.67,477.95 407.39,477.89 408.12,477.83 408.84,477.77 409.57,477.70 410.29,477.63 411.02,477.57 411.74,477.49 412.47,477.42 413.19,477.35 413.92,477.27 414.64,477.19 415.36,477.11 416.09,477.03 416.81,476.94 417.54,476.86 418.26,476.77 418.99,476.68 419.71,476.59 420.44,476.50 421.16,476.40 421.89,476.30 422.61,476.20 423.34,476.10 424.06,476.00 424.79,475.90 425.51,475.79 426.23,475.68 426.96,475.57 427.68,475.46 428.41,475.35 429.13,475.23 429.86,475.11 430.58,474.99 431.31,474.87 432.03,474.75 432.76,474.62 433.48,474.50 434.21,474.37 434.93,474.24 435.66,474.11 436.38,473.97 437.10,473.84 437.83,473.70 438.55,473.56 439.28,473.42 440.00,473.27 440.73,473.13 441.45,472.98 442.18,472.83 442.90,472.67 443.63,472.52 444.35,472.36 445.08,472.21 445.80,472.05 446.52,471.88 447.25,471.72 447.97,471.55 448.70,471.38 449.42,471.21 450.15,471.04 450.87,470.86 451.60,470.69 452.32,470.51 453.05,470.32 453.77,470.14 454.50,469.95 455.22,469.76 455.95,469.57 456.67,469.38 457.39,469.18 458.12,468.98 458.84,468.78 459.57,468.58 460.29,468.38 461.02,468.17 461.74,467.96 462.47,467.74 463.19,467.53 463.92,467.31 464.64,467.09 465.37,466.87 466.09,466.64 466.82,466.41 467.54,466.18 468.26,465.95 468.99,465.71 469.71,465.47 470.44,465.23 471.16,464.99 471.89,464.74 472.61,464.49 473.34,464.24 474.06,463.99 474.79,463.73 475.51,463.47 476.24,463.21 476.96,462.95 477.68,462.68 478.41,462.41 479.13,462.14 479.86,461.87 480.58,461.59 481.31,461.31 482.03,461.03 482.76,460.75 483.48,460.46 484.21,460.17 484.93,459.88 485.66,459.59 486.38,459.30 487.11,459.00 487.83,458.70 488.55,458.40 489.28,458.10 490.00,457.80 490.73,457.49 491.45,457.19 492.18,456.88 492.90,456.57 493.63,456.26 494.35,455.95 495.08,455.64 495.80,455.32 496.53,455.01 497.25,454.70 497.97,454.38 498.70,454.07 499.42,453.75 500.15,453.44 500.87,453.12 501.60,452.81 502.32,452.50 503.05,452.19 503.77,451.87 504.50,451.56 505.22,451.25 505.95,450.95 506.67,450.64 507.40,450.34 508.12,450.04 508.84,449.74 509.57,449.44 510.29,449.15 511.02,448.86 511.74,448.57 512.47,448.29 513.19,448.01 513.92,447.74 514.64,447.47 515.37,447.20 516.09,446.94 516.82,446.68 517.54,446.43 518.27,446.19 518.99,445.95 519.71,445.72 520.44,445.49 521.16,445.27 521.89,445.06 522.61,444.85 523.34,444.66 524.06,444.46 524.79,444.28 525.51,444.11 526.24,443.94 526.96,443.78 527.69,443.63 528.41,443.49 529.13,443.36 529.86,443.24 530.58,443.12 531.31,443.02 532.03,442.92 532.76,442.84 533.48,442.76 534.21,442.70 534.93,442.64 535.66,442.60 536.38,442.56 537.11,442.54 537.83,442.52 538.56,442.52 539.28,442.52 540.00,442.54 540.73,442.56 541.45,442.60 542.18,442.64 542.90,442.70 543.63,442.77 544.35,442.84 545.08,442.93 545.80,443.02 546.53,443.13 547.25,443.24 547.98,443.36 548.70,443.50 549.43,443.64 550.15,443.79 550.87,443.94 551.60,444.11 552.32,444.29 553.05,444.47 553.77,444.66 554.50,444.86 555.22,445.06 555.95,445.28 556.67,445.50 557.40,445.72 558.12,445.96 558.85,446.19 559.57,446.44 560.29,446.69 561.02,446.95 561.74,447.21 562.47,447.47 563.19,447.74 563.92,448.02 564.64,448.30 565.37,448.58 566.09,448.87 566.82,449.16 567.54,449.45 568.27,449.75 568.99,450.04 569.72,450.35 570.44,450.65 571.16,450.95 571.89,451.26 572.61,451.57 573.34,451.88 574.06,452.19 574.79,452.51 575.51,452.82 576.24,453.13 576.96,453.45 577.69,453.76 578.41,454.08 579.14,454.39 579.86,454.71 580.59,455.02 581.31,455.33 582.03,455.65 582.76,455.96 583.48,456.27 584.21,456.58 584.93,456.89 585.66,457.20 586.38,457.50 587.11,457.81 587.83,458.11 588.56,458.41 589.28,458.71 590.01,459.01 590.73,459.30 591.45,459.60 592.18,459.89 592.90,460.18 593.63,460.47 594.35,460.75 595.08,461.04 595.80,461.32 596.53,461.60 597.25,461.87 597.98,462.15 598.70,462.42 599.43,462.69 600.15,462.95 600.88,463.22 601.60,463.48 602.32,463.74 603.05,464.00 603.77,464.25 604.50,464.50 605.22,464.75 605.95,465.00 606.67,465.24 607.40,465.48 608.12,465.72 608.85,465.95 609.57,466.19 610.30,466.42 611.02,466.65 611.75,466.87 612.47,467.10 613.19,467.32 613.92,467.53 614.64,467.75 615.37,467.96 616.09,468.17 616.82,468.38 617.54,468.59 618.27,468.79 618.99,468.99 619.72,469.19 620.44,469.38 621.17,469.58 621.89,469.77 622.61,469.96 623.34,470.14 624.06,470.33 624.79,470.51 625.51,470.69 626.24,470.87 626.96,471.04 627.69,471.22 628.41,471.39 629.14,471.56 629.86,471.72 630.59,471.89 631.31,472.05 632.04,472.21 632.76,472.37 633.48,472.52 634.21,472.68 634.93,472.83 635.66,472.98 636.38,473.13 637.11,473.27 637.83,473.42 638.56,473.56 639.28,473.70 640.01,473.84 640.73,473.98 641.46,474.11 642.18,474.24 642.91,474.37 643.63,474.50 644.35,474.63 645.08,474.75 645.80,474.88 646.53,475.00 647.25,475.12 647.98,475.23 648.70,475.35 649.43,475.46 650.15,475.57 650.88,475.68 651.60,475.79 652.33,475.90 653.05,476.00 653.77,476.11 654.50,476.21 655.22,476.31 655.95,476.40 656.67,476.50 657.40,476.59 658.12,476.68 658.85,476.77 659.57,476.86 660.30,476.95 661.02,477.03 661.75,477.11 662.47,477.19 663.20,477.27 663.92,477.35 664.64,477.42 665.37,477.50 666.09,477.57 666.82,477.64 667.54,477.70 668.27,477.77 668.99,477.83 669.72,477.89 670.44,477.95 671.17,478.01 671.89,478.06 672.62,478.12 673.34,478.17 674.06,478.22 674.79,478.27 675.51,478.31 676.24,478.35 676.96,478.40 677.69,478.43 678.41,478.47 679.14,478.51 679.86,478.54 680.59,478.57 681.31,478.60 682.04,478.63 682.76,478.65 683.49,478.67" stroke="#000" stroke-dasharray="11.13 4.82" stroke-dashoffset="-0.3"/>
</g>
<path d="M394.35 491.55v7.0M487.23 491.55v7.0M580.11 491.55v7.0M672.99 491.55v7.0M394.35 482.70h-7.0M394.35 445.83h-7.0M394.35 408.96h-7.0M394.35 372.09h-7.0M394.35 335.22h-7.0M394.35 298.35h-7.0" stroke="#000" stroke-width="1.4" fill="none"/>
<rect x="394.35" y="293.9" width="288.65" height="197.65" fill="none" stroke="#000" stroke-width="1.4"/>
<g font-size="15.2" fill="#000">
<text x="394.75" y="517.15" text-anchor="middle">0</text>
<text x="487.63" y="517.15" text-anchor="middle">100</text>
<text x="580.51" y="517.15" text-anchor="middle">200</text>
<text x="673.39" y="517.15" text-anchor="middle">300</text>
<text x="380.75" y="488.25" text-anchor="end">0</text>
<text x="380.75" y="451.38" text-anchor="end">1</text>
<text x="380.75" y="414.51" text-anchor="end">2</text>
<text x="380.75" y="377.64" text-anchor="end">3</text>
<text x="380.75" y="340.77" text-anchor="end">4</text>
<text x="380.75" y="303.90" text-anchor="end">5</text>
</g>
<text x="511.81" y="281.8" font-size="18.6" textLength="54.09" lengthAdjust="spacingAndGlyphs">Secure</text>
<text x="506.04" y="538.8" font-size="16.2" textLength="66.62" lengthAdjust="spacingAndGlyphs">Time in s</text>
<rect x="239.05" y="257.1" width="268.6" height="27" rx="3.3" fill="#fff" fill-opacity="0.8" stroke="#ccc" stroke-width="1.4"/>
<path d="M245.25 268.9H269.55" stroke="#ff0000" stroke-width="2.9" stroke-linecap="square"/>
<path d="M312.65 268.9H336.55" stroke="#000" stroke-width="2.9" stroke-linecap="square"/>
<path d="M379.2 268.9H403.5" stroke="#808080" stroke-width="2.9" stroke-dasharray="11.13 4.82"/>
<g font-size="16.2">
<text x="278.70" y="274.6" font-size="16.2" textLength="21.24" lengthAdjust="spacingAndGlyphs">DL</text>
<text x="346.48" y="274.6" font-size="16.2" textLength="19.77" lengthAdjust="spacingAndGlyphs">UL</text>
<text x="414.39" y="274.8" font-size="16.2" textLength="8.96" lengthAdjust="spacingAndGlyphs" font-style="italic">T</text>
<text x="425.00" y="277.6" font-size="12.2" textLength="5.89" lengthAdjust="spacingAndGlyphs">0</text>
<text x="431.7" y="274.8" font-size="16.2">,</text>
<text x="440.50" y="274.8" font-size="16.2" textLength="9.10" lengthAdjust="spacingAndGlyphs" font-style="italic">T</text>
<text x="451.00" y="277.6" font-size="12.2" textLength="5.99" lengthAdjust="spacingAndGlyphs">2</text>
<path d="M463.9 271H478.9" stroke="#000" stroke-width="0.95" fill="none"/>
<path d="M475.3 268.1C476.2 269.7 477.6 270.6 479.3 271C477.6 271.4 476.2 272.3 475.3 273.9" stroke="#000" stroke-width="0.95" fill="none" stroke-linecap="round"/>
<text x="483.86" y="276.3" font-size="16.2" textLength="18.27" lengthAdjust="spacingAndGlyphs">∞</text>
</g>
</svg>
</body></html>
